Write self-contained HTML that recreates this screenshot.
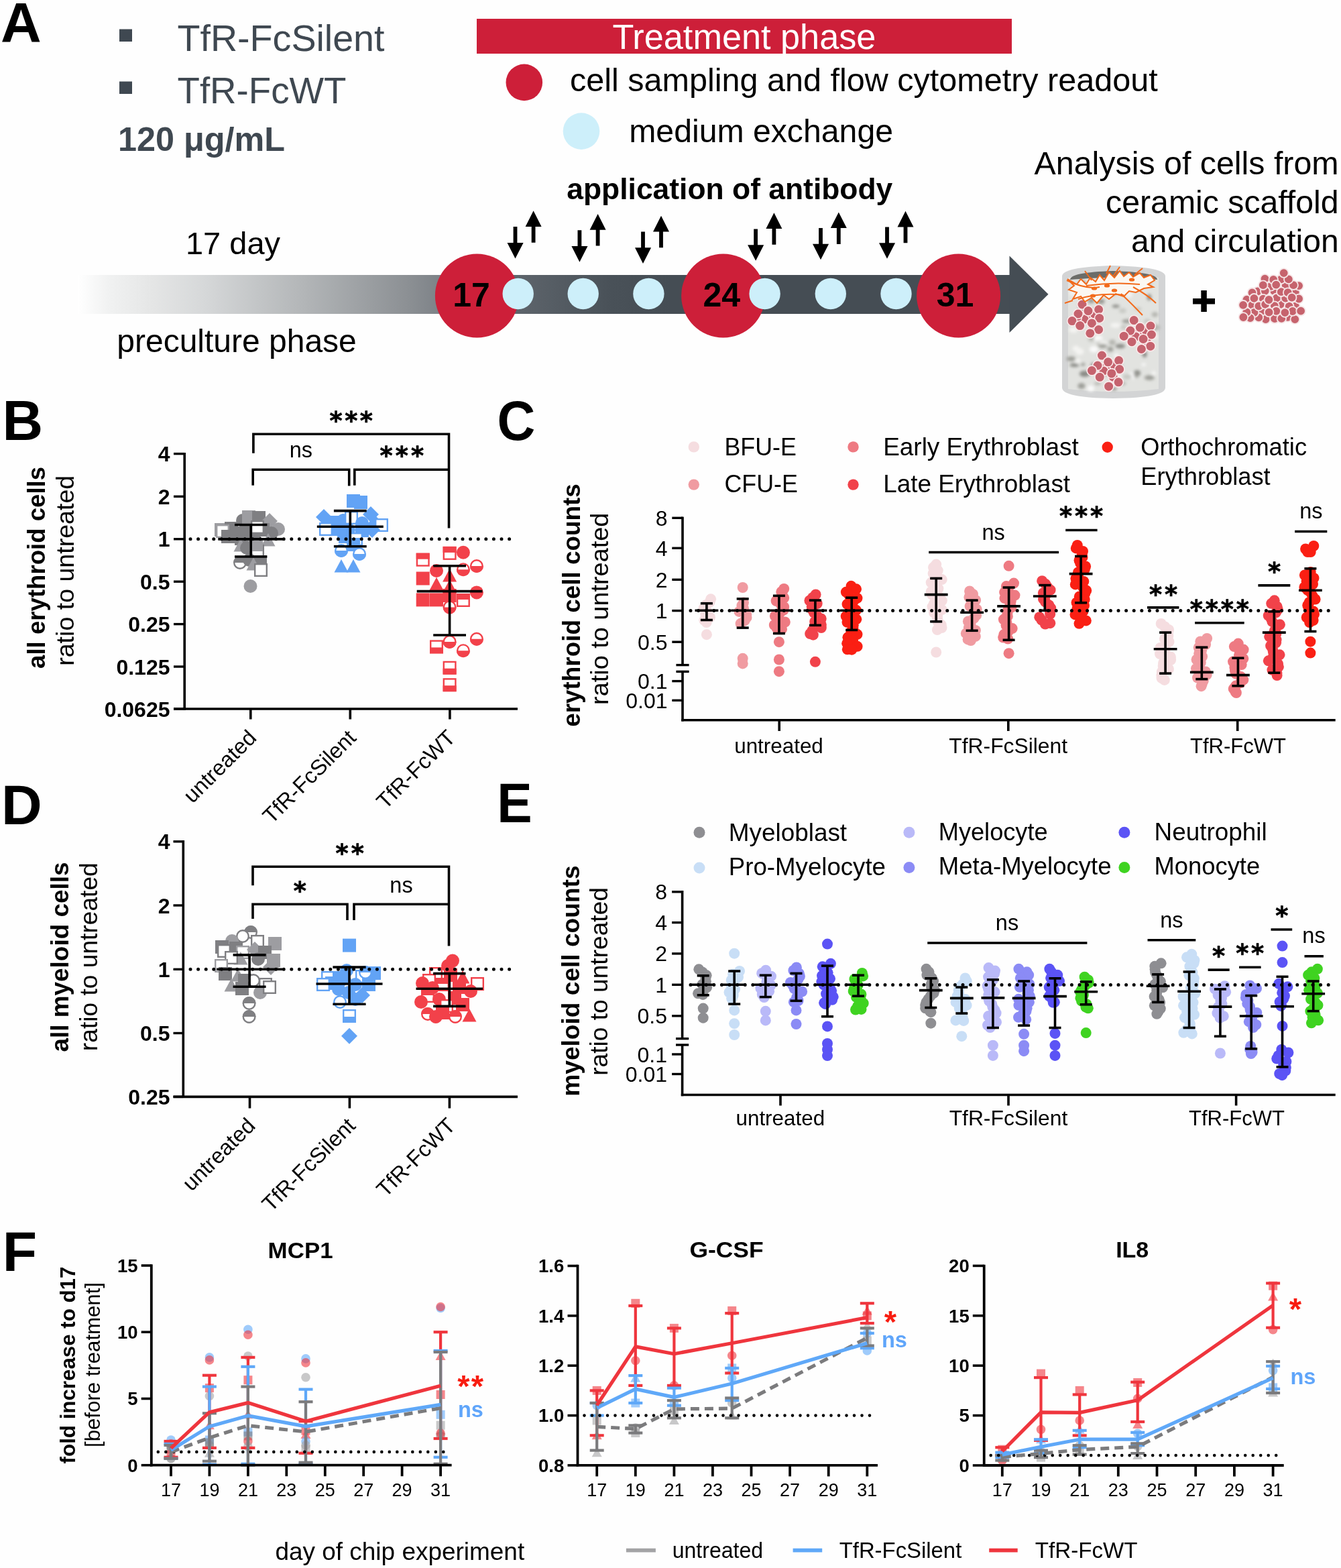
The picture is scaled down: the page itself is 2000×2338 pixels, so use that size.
<!DOCTYPE html>
<html><head><meta charset="utf-8"><title>Figure</title>
<style>html,body{margin:0;padding:0;background:#fff;}svg{display:block;}text{font-family:'Liberation Sans',Arial,Helvetica,sans-serif;}</style>
</head><body>
<svg width="2000" height="2338" viewBox="0 0 2000 2338">
<rect x="0" y="0" width="2000" height="2338" fill="#fefefe"/>
<text x="1.0" y="62.6" font-size="84" font-weight="bold">A</text>
<rect x="178.0" y="43.5" width="19.0" height="18.5" fill="#3f4851"/>
<rect x="178.0" y="121.5" width="19.0" height="18.5" fill="#3f4851"/>
<text x="264.5" y="75.9" font-size="56" fill="#3f4851" textLength="309.0" lengthAdjust="spacingAndGlyphs">TfR-FcSilent</text>
<text x="264.5" y="154.1" font-size="56" fill="#3f4851" textLength="252.0" lengthAdjust="spacingAndGlyphs">TfR-FcWT</text>
<text x="176.0" y="224.9" font-size="50" font-weight="bold" fill="#3f4851" textLength="249.0" lengthAdjust="spacingAndGlyphs">120 μg/mL</text>
<rect x="711.0" y="28.0" width="798.0" height="52.0" fill="#cd1f39"/>
<text x="913.4" y="73.1" font-size="51" fill="#fff" textLength="393.0" lengthAdjust="spacingAndGlyphs">Treatment phase</text>
<circle cx="781.8" cy="122.9" r="27.3" fill="#cd1f39"/>
<text x="850.0" y="136.3" font-size="48" textLength="876.7" lengthAdjust="spacingAndGlyphs">cell sampling and flow cytometry readout</text>
<circle cx="867.0" cy="195.6" r="27.3" fill="#cdeffa"/>
<text x="938.2" y="212.2" font-size="48" textLength="393.8" lengthAdjust="spacingAndGlyphs">medium exchange</text>
<text x="845.3" y="297.0" font-size="45" font-weight="bold" textLength="486.0" lengthAdjust="spacingAndGlyphs">application of antibody</text>
<text x="1996.6" y="260.0" font-size="48" text-anchor="end" textLength="454.0" lengthAdjust="spacingAndGlyphs">Analysis of cells from</text>
<text x="1996.6" y="317.5" font-size="48" text-anchor="end" textLength="347.5" lengthAdjust="spacingAndGlyphs">ceramic scaffold</text>
<text x="1996.6" y="376.0" font-size="48" text-anchor="end">and circulation</text>
<text x="277.0" y="379.0" font-size="47" textLength="141.0" lengthAdjust="spacingAndGlyphs">17 day</text>
<text x="174.3" y="524.5" font-size="48" textLength="357.5" lengthAdjust="spacingAndGlyphs">preculture phase</text>
<defs><linearGradient id="gbar" x1="116" y1="0" x2="1506" y2="0" gradientUnits="userSpaceOnUse"><stop offset="0" stop-color="#ffffff"/><stop offset="0.032" stop-color="#f1f2f2"/><stop offset="0.082" stop-color="#e4e5e5"/><stop offset="0.135" stop-color="#d6d8d9"/><stop offset="0.244" stop-color="#b2b5b7"/><stop offset="0.354" stop-color="#8c9094"/><stop offset="0.384" stop-color="#7f8489"/><stop offset="0.474" stop-color="#5d646b"/><stop offset="0.573" stop-color="#495158"/><stop offset="0.636" stop-color="#454d54"/><stop offset="1" stop-color="#454d54"/></linearGradient></defs>
<rect x="116.0" y="410.0" width="1390.5" height="58.0" fill="url(#gbar)"/>
<polygon points="1505.5,381.5 1563.5,438.8 1505.5,496.0" fill="#454d54"/>
<circle cx="711.4" cy="441.0" r="62.5" fill="#cd1f39"/>
<circle cx="1078.6" cy="441.0" r="62.5" fill="#cd1f39"/>
<circle cx="1429.6" cy="441.0" r="62.5" fill="#cd1f39"/>
<circle cx="772.7" cy="438.0" r="23.2" fill="#cdeffa"/>
<circle cx="869.7" cy="438.0" r="23.2" fill="#cdeffa"/>
<circle cx="967.4" cy="438.0" r="23.2" fill="#cdeffa"/>
<circle cx="1140.6" cy="438.0" r="23.2" fill="#cdeffa"/>
<circle cx="1238.8" cy="438.0" r="23.2" fill="#cdeffa"/>
<circle cx="1336.5" cy="438.0" r="23.2" fill="#cdeffa"/>
<text x="703.0" y="457.3" font-size="50" font-weight="bold" text-anchor="middle">17</text>
<text x="1076.3" y="457.3" font-size="50" font-weight="bold" text-anchor="middle">24</text>
<text x="1424.5" y="457.3" font-size="50" font-weight="bold" text-anchor="middle">31</text>
<path d="M765.6,338.1 h5.8 v23.8 h9.2 L768.5,385.5 L756.5,361.9 h9.1 z" fill="#000" stroke="none" stroke-width="0"/>
<path d="M795.6,314.2 L807.6,337.9 h-9.1 v23.8 h-5.8 v-23.8 h-9.1 z" fill="#000" stroke="none" stroke-width="0"/>
<path d="M861.5,343.3 h5.8 v23.8 h9.2 L864.4,390.7 L852.4,367.1 h9.1 z" fill="#000" stroke="none" stroke-width="0"/>
<path d="M891.6,319.0 L903.6,342.7 h-9.1 v23.8 h-5.8 v-23.8 h-9.1 z" fill="#000" stroke="none" stroke-width="0"/>
<path d="M956.1,345.5 h5.8 v23.8 h9.2 L959.0,392.9 L947.0,369.3 h9.1 z" fill="#000" stroke="none" stroke-width="0"/>
<path d="M986.0,321.7 L998.0,345.4 h-9.1 v23.8 h-5.8 v-23.8 h-9.1 z" fill="#000" stroke="none" stroke-width="0"/>
<path d="M1124.2,341.4 h5.8 v23.8 h9.2 L1127.1,388.8 L1115.1,365.2 h9.1 z" fill="#000" stroke="none" stroke-width="0"/>
<path d="M1154.4,317.3 L1166.4,341.0 h-9.1 v23.8 h-5.8 v-23.8 h-9.1 z" fill="#000" stroke="none" stroke-width="0"/>
<path d="M1221.1,339.9 h5.8 v23.8 h9.2 L1224.0,387.3 L1212.0,363.7 h9.1 z" fill="#000" stroke="none" stroke-width="0"/>
<path d="M1250.8,316.4 L1262.8,340.1 h-9.1 v23.8 h-5.8 v-23.8 h-9.1 z" fill="#000" stroke="none" stroke-width="0"/>
<path d="M1320.1,338.4 h5.8 v23.8 h9.2 L1323.0,385.8 L1311.0,362.2 h9.1 z" fill="#000" stroke="none" stroke-width="0"/>
<path d="M1350.5,314.7 L1362.5,338.4 h-9.1 v23.8 h-5.8 v-23.8 h-9.1 z" fill="#000" stroke="none" stroke-width="0"/>
<defs><radialGradient id="scaf" cx="0.5" cy="0.5" r="0.6"><stop offset="0" stop-color="#e8e9e6"/><stop offset="1" stop-color="#c9cac8"/></radialGradient><filter id="blur1"><feGaussianBlur stdDeviation="2.2"/></filter></defs>
<path d="M1584,412 Q1584,398 1660,396 Q1738,398 1738,412 L1738,578 Q1738,593 1660,594 Q1584,593 1584,578 Z" fill="#d3d4d5" stroke="none" stroke-width="0"/>
<path d="M1593,414 Q1660,405 1728,414 L1728,580 Q1660,588 1593,580 Z" fill="#e2e3e0" stroke="none" stroke-width="0"/>
<g filter="url(#blur1)"><ellipse cx="1627.2" cy="506.2" rx="4.8" ry="3.8" fill="#c8c9c4"/><ellipse cx="1670.8" cy="516.1" rx="7.5" ry="3.4" fill="#8a8b86"/><ellipse cx="1626.8" cy="579.3" rx="5.4" ry="4.5" fill="#fafafa"/><ellipse cx="1647.4" cy="557.5" rx="4.2" ry="2.5" fill="#8a8b86"/><ellipse cx="1646.5" cy="420.5" rx="6.9" ry="2.5" fill="#8a8b86"/><ellipse cx="1602.4" cy="544.4" rx="7.1" ry="2.8" fill="#8a8b86"/><ellipse cx="1688.3" cy="560.4" rx="6.6" ry="4.8" fill="#fafafa"/><ellipse cx="1689.5" cy="511.5" rx="7.8" ry="2.4" fill="#f4f4f2"/><ellipse cx="1609.4" cy="440.0" rx="4.1" ry="4.9" fill="#fafafa"/><ellipse cx="1695.9" cy="556.5" rx="5.1" ry="4.5" fill="#8a8b86"/><ellipse cx="1641.6" cy="512.8" rx="5.9" ry="4.7" fill="#c8c9c4"/><ellipse cx="1713.3" cy="422.6" rx="4.4" ry="3.8" fill="#c8c9c4"/><ellipse cx="1617.7" cy="557.4" rx="7.8" ry="4.7" fill="#8a8b86"/><ellipse cx="1610.2" cy="524.2" rx="6.2" ry="5.0" fill="#f4f4f2"/><ellipse cx="1633.2" cy="428.3" rx="7.3" ry="5.0" fill="#9d9e98"/><ellipse cx="1640.7" cy="428.8" rx="7.5" ry="2.1" fill="#fafafa"/><ellipse cx="1694.6" cy="559.4" rx="3.2" ry="3.8" fill="#9d9e98"/><ellipse cx="1645.0" cy="513.0" rx="5.8" ry="4.8" fill="#f4f4f2"/><ellipse cx="1661.2" cy="579.8" rx="4.5" ry="2.2" fill="#8a8b86"/><ellipse cx="1665.0" cy="571.7" rx="7.9" ry="2.9" fill="#f4f4f2"/><ellipse cx="1616.8" cy="424.9" rx="7.3" ry="2.9" fill="#b5b6b0"/><ellipse cx="1710.9" cy="479.2" rx="5.3" ry="3.6" fill="#c8c9c4"/><ellipse cx="1707.1" cy="528.3" rx="3.5" ry="4.9" fill="#8a8b86"/><ellipse cx="1631.5" cy="520.8" rx="6.6" ry="4.8" fill="#fafafa"/><ellipse cx="1721.2" cy="502.4" rx="5.7" ry="2.0" fill="#fafafa"/><ellipse cx="1722.4" cy="469.0" rx="4.9" ry="3.8" fill="#b5b6b0"/><ellipse cx="1604.6" cy="519.6" rx="5.3" ry="4.0" fill="#f4f4f2"/><ellipse cx="1674.3" cy="463.2" rx="5.4" ry="3.8" fill="#c8c9c4"/><ellipse cx="1599.7" cy="477.8" rx="6.1" ry="2.9" fill="#8a8b86"/><ellipse cx="1637.6" cy="477.0" rx="4.6" ry="3.1" fill="#8a8b86"/><ellipse cx="1630.5" cy="545.5" rx="3.5" ry="4.4" fill="#8a8b86"/><ellipse cx="1683.8" cy="439.3" rx="5.5" ry="4.0" fill="#f4f4f2"/><ellipse cx="1627.3" cy="448.4" rx="5.2" ry="4.1" fill="#9d9e98"/><ellipse cx="1673.3" cy="571.8" rx="6.4" ry="2.7" fill="#b5b6b0"/><ellipse cx="1607.2" cy="538.2" rx="4.1" ry="3.7" fill="#f4f4f2"/><ellipse cx="1625.6" cy="437.6" rx="5.6" ry="2.6" fill="#8a8b86"/><ellipse cx="1620.3" cy="463.1" rx="7.0" ry="3.9" fill="#8a8b86"/><ellipse cx="1640.9" cy="439.0" rx="4.5" ry="4.4" fill="#f4f4f2"/><ellipse cx="1656.0" cy="520.7" rx="4.5" ry="3.7" fill="#9d9e98"/><ellipse cx="1713.9" cy="443.3" rx="3.0" ry="4.8" fill="#8a8b86"/><ellipse cx="1722.3" cy="488.4" rx="7.8" ry="4.8" fill="#b5b6b0"/><ellipse cx="1601.1" cy="492.0" rx="6.8" ry="4.2" fill="#f4f4f2"/><ellipse cx="1666.1" cy="562.1" rx="7.3" ry="4.6" fill="#f4f4f2"/><ellipse cx="1612.2" cy="457.6" rx="3.2" ry="4.4" fill="#8a8b86"/><ellipse cx="1714.3" cy="563.2" rx="7.5" ry="3.7" fill="#9d9e98"/><ellipse cx="1658.1" cy="437.6" rx="5.5" ry="2.7" fill="#9d9e98"/><ellipse cx="1663.7" cy="485.0" rx="7.7" ry="3.8" fill="#f4f4f2"/><ellipse cx="1612.9" cy="575.5" rx="5.7" ry="4.4" fill="#9d9e98"/><ellipse cx="1641.7" cy="450.0" rx="5.7" ry="4.5" fill="#b5b6b0"/><ellipse cx="1627.4" cy="462.3" rx="7.4" ry="2.4" fill="#9d9e98"/><ellipse cx="1658.9" cy="510.5" rx="5.0" ry="4.3" fill="#b5b6b0"/><ellipse cx="1631.1" cy="503.4" rx="5.1" ry="3.4" fill="#9d9e98"/><ellipse cx="1705.8" cy="543.6" rx="3.2" ry="2.1" fill="#fafafa"/><ellipse cx="1720.8" cy="556.4" rx="3.4" ry="3.5" fill="#f4f4f2"/><ellipse cx="1616.9" cy="429.6" rx="4.9" ry="3.2" fill="#f4f4f2"/><ellipse cx="1642.8" cy="449.0" rx="4.6" ry="2.4" fill="#8a8b86"/><ellipse cx="1597.4" cy="535.1" rx="7.0" ry="3.7" fill="#9d9e98"/><ellipse cx="1644.4" cy="515.9" rx="6.9" ry="3.1" fill="#9d9e98"/><ellipse cx="1676.1" cy="487.9" rx="4.9" ry="3.5" fill="#c8c9c4"/><ellipse cx="1637.0" cy="571.9" rx="5.1" ry="2.1" fill="#b5b6b0"/><ellipse cx="1665.1" cy="530.6" rx="3.4" ry="3.3" fill="#fafafa"/><ellipse cx="1613.6" cy="422.6" rx="4.6" ry="4.9" fill="#8a8b86"/><ellipse cx="1697.4" cy="460.5" rx="5.3" ry="2.4" fill="#c8c9c4"/><ellipse cx="1681.1" cy="561.7" rx="7.0" ry="4.0" fill="#c8c9c4"/><ellipse cx="1637.4" cy="504.2" rx="7.1" ry="4.1" fill="#fafafa"/><ellipse cx="1615.2" cy="543.4" rx="3.2" ry="2.3" fill="#9d9e98"/><ellipse cx="1680.7" cy="478.9" rx="7.1" ry="3.0" fill="#9d9e98"/><ellipse cx="1600.2" cy="436.6" rx="5.4" ry="4.1" fill="#f4f4f2"/><ellipse cx="1670.5" cy="547.4" rx="3.2" ry="4.3" fill="#8a8b86"/><ellipse cx="1664.2" cy="456.6" rx="5.8" ry="2.3" fill="#8a8b86"/></g>
<path d="M1596,417 Q1596,406 1660,404 Q1726,406 1726,417 Q1660,411 1596,417 Z" fill="#6b6c69" stroke="none" stroke-width="0"/>
<circle cx="1620.0" cy="472.0" r="7.3" fill="#c5636e" stroke="#fbe9ea" stroke-width="1.6"/>
<circle cx="1632.0" cy="468.0" r="7.3" fill="#c5636e" stroke="#fbe9ea" stroke-width="1.6"/>
<circle cx="1617.0" cy="476.0" r="7.3" fill="#c5636e" stroke="#fbe9ea" stroke-width="1.6"/>
<circle cx="1630.0" cy="488.0" r="7.3" fill="#c5636e" stroke="#fbe9ea" stroke-width="1.6"/>
<circle cx="1606.0" cy="474.0" r="7.3" fill="#c5636e" stroke="#fbe9ea" stroke-width="1.6"/>
<circle cx="1614.0" cy="454.0" r="7.3" fill="#c5636e" stroke="#fbe9ea" stroke-width="1.6"/>
<circle cx="1638.6" cy="461.5" r="7.3" fill="#c5636e" stroke="#fbe9ea" stroke-width="1.6"/>
<circle cx="1623.0" cy="463.6" r="7.3" fill="#c5636e" stroke="#fbe9ea" stroke-width="1.6"/>
<circle cx="1608.0" cy="468.0" r="7.3" fill="#c5636e" stroke="#fbe9ea" stroke-width="1.6"/>
<circle cx="1639.7" cy="474.4" r="7.3" fill="#c5636e" stroke="#fbe9ea" stroke-width="1.6"/>
<circle cx="1599.0" cy="478.6" r="7.3" fill="#c5636e" stroke="#fbe9ea" stroke-width="1.6"/>
<circle cx="1628.4" cy="481.9" r="7.3" fill="#c5636e" stroke="#fbe9ea" stroke-width="1.6"/>
<circle cx="1610.7" cy="485.6" r="7.3" fill="#c5636e" stroke="#fbe9ea" stroke-width="1.6"/>
<circle cx="1638.6" cy="491.5" r="7.3" fill="#c5636e" stroke="#fbe9ea" stroke-width="1.6"/>
<circle cx="1625.8" cy="496.9" r="7.3" fill="#c5636e" stroke="#fbe9ea" stroke-width="1.6"/>
<circle cx="1698.0" cy="495.0" r="7.3" fill="#c5636e" stroke="#fbe9ea" stroke-width="1.6"/>
<circle cx="1709.0" cy="493.0" r="7.3" fill="#c5636e" stroke="#fbe9ea" stroke-width="1.6"/>
<circle cx="1694.0" cy="502.0" r="7.3" fill="#c5636e" stroke="#fbe9ea" stroke-width="1.6"/>
<circle cx="1710.0" cy="508.0" r="7.3" fill="#c5636e" stroke="#fbe9ea" stroke-width="1.6"/>
<circle cx="1691.2" cy="477.6" r="7.3" fill="#c5636e" stroke="#fbe9ea" stroke-width="1.6"/>
<circle cx="1716.0" cy="486.0" r="7.3" fill="#c5636e" stroke="#fbe9ea" stroke-width="1.6"/>
<circle cx="1700.3" cy="488.3" r="7.3" fill="#c5636e" stroke="#fbe9ea" stroke-width="1.6"/>
<circle cx="1685.8" cy="493.1" r="7.3" fill="#c5636e" stroke="#fbe9ea" stroke-width="1.6"/>
<circle cx="1717.4" cy="499.0" r="7.3" fill="#c5636e" stroke="#fbe9ea" stroke-width="1.6"/>
<circle cx="1676.2" cy="501.2" r="7.3" fill="#c5636e" stroke="#fbe9ea" stroke-width="1.6"/>
<circle cx="1705.1" cy="505.5" r="7.3" fill="#c5636e" stroke="#fbe9ea" stroke-width="1.6"/>
<circle cx="1688.0" cy="509.7" r="7.3" fill="#c5636e" stroke="#fbe9ea" stroke-width="1.6"/>
<circle cx="1715.8" cy="516.2" r="7.3" fill="#c5636e" stroke="#fbe9ea" stroke-width="1.6"/>
<circle cx="1702.4" cy="520.5" r="7.3" fill="#c5636e" stroke="#fbe9ea" stroke-width="1.6"/>
<circle cx="1650.0" cy="547.0" r="7.3" fill="#c5636e" stroke="#fbe9ea" stroke-width="1.6"/>
<circle cx="1662.0" cy="545.0" r="7.3" fill="#c5636e" stroke="#fbe9ea" stroke-width="1.6"/>
<circle cx="1646.0" cy="553.0" r="7.3" fill="#c5636e" stroke="#fbe9ea" stroke-width="1.6"/>
<circle cx="1660.0" cy="562.0" r="7.3" fill="#c5636e" stroke="#fbe9ea" stroke-width="1.6"/>
<circle cx="1643.4" cy="530.1" r="7.3" fill="#c5636e" stroke="#fbe9ea" stroke-width="1.6"/>
<circle cx="1668.6" cy="537.6" r="7.3" fill="#c5636e" stroke="#fbe9ea" stroke-width="1.6"/>
<circle cx="1652.6" cy="539.8" r="7.3" fill="#c5636e" stroke="#fbe9ea" stroke-width="1.6"/>
<circle cx="1637.0" cy="545.1" r="7.3" fill="#c5636e" stroke="#fbe9ea" stroke-width="1.6"/>
<circle cx="1669.7" cy="550.5" r="7.3" fill="#c5636e" stroke="#fbe9ea" stroke-width="1.6"/>
<circle cx="1628.4" cy="552.6" r="7.3" fill="#c5636e" stroke="#fbe9ea" stroke-width="1.6"/>
<circle cx="1657.9" cy="556.9" r="7.3" fill="#c5636e" stroke="#fbe9ea" stroke-width="1.6"/>
<circle cx="1640.2" cy="562.3" r="7.3" fill="#c5636e" stroke="#fbe9ea" stroke-width="1.6"/>
<circle cx="1668.1" cy="569.8" r="7.3" fill="#c5636e" stroke="#fbe9ea" stroke-width="1.6"/>
<circle cx="1653.6" cy="576.2" r="7.3" fill="#c5636e" stroke="#fbe9ea" stroke-width="1.6"/>
<path d="M1592,416 L1606,424 L1612,416 L1620,424 L1626,414 L1634,420 L1640,410 L1647,418 L1654,406 L1662,414 L1670,404 L1676,412 L1684,406 L1690,413 L1700,407 L1706,414 L1716,410 L1722,418 L1712,424 L1720,428 L1706,430 L1694,436 L1684,434 L1676,442 L1664,438 L1654,446 L1646,440 L1636,452 L1628,444 L1618,450 L1612,442 L1600,446 L1606,436 L1594,432 L1602,426 Z" fill="#fbf7f1" stroke="#f26a1b" stroke-width="2.0"/>
<path d="M1591,418 Q1620,432 1640,428 M1608,446 Q1640,436 1676,440 M1620,426 Q1660,420 1700,424 M1672,438 Q1690,455 1704,470 M1690,428 Q1712,440 1724,452 M1600,448 L1588,452 M1650,408 L1656,396 M1628,418 L1618,404 M1660,412 L1670,398 M1692,410 L1704,400" fill="none" stroke="#f26a1b" stroke-width="2.0"/>
<ellipse cx="1632" cy="430" rx="4.2" ry="2.6" fill="#f26a1b"/>
<ellipse cx="1651" cy="426" rx="4.2" ry="2.6" fill="#f26a1b"/>
<ellipse cx="1688" cy="417" rx="4.2" ry="2.6" fill="#f26a1b"/>
<ellipse cx="1630" cy="441" rx="4.2" ry="2.6" fill="#f26a1b"/>
<ellipse cx="1662" cy="433" rx="4.2" ry="2.6" fill="#f26a1b"/>
<rect x="1779.0" y="445.0" width="33.0" height="8.5" fill="#000"/>
<rect x="1791.3" y="433.0" width="8.5" height="32.0" fill="#000"/>
<circle cx="1931.9" cy="456.6" r="6.8" fill="#c6636d" stroke="#f6e6e7" stroke-width="1.8"/>
<circle cx="1859.5" cy="446.6" r="6.8" fill="#c6636d" stroke="#f6e6e7" stroke-width="1.8"/>
<circle cx="1900.5" cy="434.2" r="6.8" fill="#c6636d" stroke="#f6e6e7" stroke-width="1.8"/>
<circle cx="1886.5" cy="415.7" r="6.8" fill="#c6636d" stroke="#f6e6e7" stroke-width="1.8"/>
<circle cx="1895.4" cy="426.9" r="6.8" fill="#c6636d" stroke="#f6e6e7" stroke-width="1.8"/>
<circle cx="1875.6" cy="434.5" r="6.8" fill="#c6636d" stroke="#f6e6e7" stroke-width="1.8"/>
<circle cx="1882.9" cy="464.1" r="6.8" fill="#c6636d" stroke="#f6e6e7" stroke-width="1.8"/>
<circle cx="1909.7" cy="453.9" r="6.8" fill="#c6636d" stroke="#f6e6e7" stroke-width="1.8"/>
<circle cx="1886.8" cy="433.8" r="6.8" fill="#c6636d" stroke="#f6e6e7" stroke-width="1.8"/>
<circle cx="1931.7" cy="435.9" r="6.8" fill="#c6636d" stroke="#f6e6e7" stroke-width="1.8"/>
<circle cx="1883.9" cy="445.7" r="6.8" fill="#c6636d" stroke="#f6e6e7" stroke-width="1.8"/>
<circle cx="1887.7" cy="476.0" r="6.8" fill="#c6636d" stroke="#f6e6e7" stroke-width="1.8"/>
<circle cx="1937.1" cy="426.1" r="6.8" fill="#c6636d" stroke="#f6e6e7" stroke-width="1.8"/>
<circle cx="1922.7" cy="456.6" r="6.8" fill="#c6636d" stroke="#f6e6e7" stroke-width="1.8"/>
<circle cx="1920.5" cy="472.9" r="6.8" fill="#c6636d" stroke="#f6e6e7" stroke-width="1.8"/>
<circle cx="1867.5" cy="436.3" r="6.8" fill="#c6636d" stroke="#f6e6e7" stroke-width="1.8"/>
<circle cx="1904.0" cy="444.3" r="6.8" fill="#c6636d" stroke="#f6e6e7" stroke-width="1.8"/>
<circle cx="1917.7" cy="425.5" r="6.8" fill="#c6636d" stroke="#f6e6e7" stroke-width="1.8"/>
<circle cx="1937.1" cy="445.5" r="6.8" fill="#c6636d" stroke="#f6e6e7" stroke-width="1.8"/>
<circle cx="1917.2" cy="444.6" r="6.8" fill="#c6636d" stroke="#f6e6e7" stroke-width="1.8"/>
<circle cx="1910.7" cy="416.3" r="6.8" fill="#c6636d" stroke="#f6e6e7" stroke-width="1.8"/>
<circle cx="1931.3" cy="476.1" r="6.8" fill="#c6636d" stroke="#f6e6e7" stroke-width="1.8"/>
<circle cx="1867.5" cy="454.9" r="6.8" fill="#c6636d" stroke="#f6e6e7" stroke-width="1.8"/>
<circle cx="1910.8" cy="435.2" r="6.8" fill="#c6636d" stroke="#f6e6e7" stroke-width="1.8"/>
<circle cx="1899.2" cy="417.0" r="6.8" fill="#c6636d" stroke="#f6e6e7" stroke-width="1.8"/>
<circle cx="1870.4" cy="444.8" r="6.8" fill="#c6636d" stroke="#f6e6e7" stroke-width="1.8"/>
<circle cx="1929.1" cy="425.2" r="6.8" fill="#c6636d" stroke="#f6e6e7" stroke-width="1.8"/>
<circle cx="1877.3" cy="473.3" r="6.8" fill="#c6636d" stroke="#f6e6e7" stroke-width="1.8"/>
<circle cx="1900.9" cy="456.1" r="6.8" fill="#c6636d" stroke="#f6e6e7" stroke-width="1.8"/>
<circle cx="1870.5" cy="466.0" r="6.8" fill="#c6636d" stroke="#f6e6e7" stroke-width="1.8"/>
<circle cx="1864.6" cy="474.1" r="6.8" fill="#c6636d" stroke="#f6e6e7" stroke-width="1.8"/>
<circle cx="1927.8" cy="464.0" r="6.8" fill="#c6636d" stroke="#f6e6e7" stroke-width="1.8"/>
<circle cx="1859.3" cy="465.5" r="6.8" fill="#c6636d" stroke="#f6e6e7" stroke-width="1.8"/>
<circle cx="1877.3" cy="456.3" r="6.8" fill="#c6636d" stroke="#f6e6e7" stroke-width="1.8"/>
<circle cx="1887.1" cy="453.8" r="6.8" fill="#c6636d" stroke="#f6e6e7" stroke-width="1.8"/>
<circle cx="1901.1" cy="475.2" r="6.8" fill="#c6636d" stroke="#f6e6e7" stroke-width="1.8"/>
<circle cx="1892.4" cy="447.0" r="6.8" fill="#c6636d" stroke="#f6e6e7" stroke-width="1.8"/>
<circle cx="1854.1" cy="454.8" r="6.8" fill="#c6636d" stroke="#f6e6e7" stroke-width="1.8"/>
<circle cx="1920.7" cy="436.2" r="6.8" fill="#c6636d" stroke="#f6e6e7" stroke-width="1.8"/>
<circle cx="1903.2" cy="424.6" r="6.8" fill="#c6636d" stroke="#f6e6e7" stroke-width="1.8"/>
<circle cx="1940.1" cy="463.7" r="6.8" fill="#c6636d" stroke="#f6e6e7" stroke-width="1.8"/>
<circle cx="1883.8" cy="425.2" r="6.8" fill="#c6636d" stroke="#f6e6e7" stroke-width="1.8"/>
<circle cx="1921.8" cy="416.4" r="6.8" fill="#c6636d" stroke="#f6e6e7" stroke-width="1.8"/>
<circle cx="1903.4" cy="463.8" r="6.8" fill="#c6636d" stroke="#f6e6e7" stroke-width="1.8"/>
<circle cx="1914.7" cy="407.1" r="6.8" fill="#c6636d" stroke="#f6e6e7" stroke-width="1.8"/>
<circle cx="1892.6" cy="465.6" r="6.8" fill="#c6636d" stroke="#f6e6e7" stroke-width="1.8"/>
<circle cx="1911.3" cy="474.9" r="6.8" fill="#c6636d" stroke="#f6e6e7" stroke-width="1.8"/>
<circle cx="1926.7" cy="443.7" r="6.8" fill="#c6636d" stroke="#f6e6e7" stroke-width="1.8"/>
<circle cx="1854.4" cy="473.0" r="6.8" fill="#c6636d" stroke="#f6e6e7" stroke-width="1.8"/>
<circle cx="1916.4" cy="466.1" r="6.8" fill="#c6636d" stroke="#f6e6e7" stroke-width="1.8"/>
<text x="3.6" y="655.5" font-size="84" font-weight="bold">B</text>
<line x1="275.2" y1="674.9" x2="275.2" y2="1058.7" stroke="#000" stroke-width="3.6"/>
<line x1="259.0" y1="676.6" x2="275.2" y2="676.6" stroke="#000" stroke-width="3.4"/>
<text x="253.5" y="688.1" font-size="32" font-weight="bold" text-anchor="end">4</text>
<line x1="259.0" y1="740.3" x2="275.2" y2="740.3" stroke="#000" stroke-width="3.4"/>
<text x="253.5" y="751.8" font-size="32" font-weight="bold" text-anchor="end">2</text>
<line x1="259.0" y1="803.8" x2="275.2" y2="803.8" stroke="#000" stroke-width="3.4"/>
<text x="253.5" y="815.3" font-size="32" font-weight="bold" text-anchor="end">1</text>
<line x1="259.0" y1="867.2" x2="275.2" y2="867.2" stroke="#000" stroke-width="3.4"/>
<text x="253.5" y="878.7" font-size="32" font-weight="bold" text-anchor="end">0.5</text>
<line x1="259.0" y1="930.6" x2="275.2" y2="930.6" stroke="#000" stroke-width="3.4"/>
<text x="253.5" y="942.1" font-size="32" font-weight="bold" text-anchor="end">0.25</text>
<line x1="259.0" y1="994.0" x2="275.2" y2="994.0" stroke="#000" stroke-width="3.4"/>
<text x="253.5" y="1005.5" font-size="32" font-weight="bold" text-anchor="end">0.125</text>
<line x1="259.0" y1="1057.0" x2="275.2" y2="1057.0" stroke="#000" stroke-width="3.4"/>
<text x="253.5" y="1068.5" font-size="32" font-weight="bold" text-anchor="end">0.0625</text>
<line x1="259.0" y1="1057.0" x2="772.0" y2="1057.0" stroke="#000" stroke-width="3.6"/>
<line x1="373.8" y1="1057.0" x2="373.8" y2="1072.5" stroke="#000" stroke-width="3.6"/>
<line x1="522.3" y1="1057.0" x2="522.3" y2="1072.5" stroke="#000" stroke-width="3.6"/>
<line x1="670.9" y1="1057.0" x2="670.9" y2="1072.5" stroke="#000" stroke-width="3.6"/>
<text x="0" y="0" font-size="32.5" text-anchor="end" transform="translate(384.2,1102.0) rotate(-45)">untreated</text>
<text x="0" y="0" font-size="32.5" text-anchor="end" transform="translate(533.0,1102.0) rotate(-45)">TfR-FcSilent</text>
<text x="0" y="0" font-size="32.5" text-anchor="end" transform="translate(681.0,1102.0) rotate(-45)">TfR-FcWT</text>
<text x="0" y="0" font-size="37" font-weight="bold" text-anchor="middle" textLength="301.0" lengthAdjust="spacingAndGlyphs" transform="translate(67.4,846.4) rotate(-90)">all erythroid cells</text>
<text x="0" y="0" font-size="37" text-anchor="middle" textLength="284.0" lengthAdjust="spacingAndGlyphs" transform="translate(110.4,850.8) rotate(-90)">ratio to untreated</text>
<path d="M377.9,675.8 V647.3 H669.5 V787.5" fill="none" stroke="#000" stroke-width="3.6"/>
<path d="M377.2,723.7 V700.2 H520.7 V724.6" fill="none" stroke="#000" stroke-width="3.6"/>
<path d="M528.8,723.7 V700.2 H669.5" fill="none" stroke="#000" stroke-width="3.6"/>
<text x="491.6" y="640.0" font-size="36.5" font-family="DejaVu Sans, sans-serif" font-weight="bold" letter-spacing="3.51" fill="#000" stroke="#000" stroke-width="0.7" style="font-family:'DejaVu Sans',sans-serif">***</text>
<text x="448.8" y="681.6" font-size="34" text-anchor="middle" textLength="34.3" lengthAdjust="spacingAndGlyphs">ns</text>
<text x="566.5" y="691.5" font-size="36.5" font-family="DejaVu Sans, sans-serif" font-weight="bold" letter-spacing="4.11" fill="#000" stroke="#000" stroke-width="0.7" style="font-family:'DejaVu Sans',sans-serif">***</text>
<rect x="320.0" y="780.0" width="20.0" height="20.0" fill="#9d9da1"/>
<rect x="335.0" y="778.0" width="20.0" height="20.0" fill="#7f7f82"/>
<rect x="323.2" y="783.2" width="17.6" height="17.6" fill="#fff" stroke="#9d9da1" stroke-width="2.4"/>
<circle cx="362.0" cy="776.0" r="10.0" fill="#7f7f82"/>
<rect x="361.0" y="761.0" width="20.0" height="20.0" fill="#9d9da1"/>
<rect x="376.0" y="762.0" width="20.0" height="20.0" fill="#7f7f82"/>
<polygon points="402.0,765.0 414.0,777.0 402.0,789.0 390.0,777.0" fill="#9d9da1"/>
<circle cx="415.0" cy="789.0" r="10.0" fill="#9d9da1"/>
<rect x="342.0" y="785.0" width="20.0" height="20.0" fill="#7f7f82"/>
<rect x="362.0" y="783.0" width="20.0" height="20.0" fill="#7f7f82"/>
<rect x="382.0" y="780.0" width="20.0" height="20.0" fill="#7f7f82"/>
<circle cx="405.0" cy="795.0" r="10.0" fill="#7f7f82"/>
<rect x="375.2" y="777.2" width="17.6" height="17.6" fill="#fff" stroke="#7f7f82" stroke-width="2.4"/>
<rect x="330.0" y="790.0" width="20.0" height="20.0" fill="#7f7f82"/>
<rect x="350.0" y="793.0" width="20.0" height="20.0" fill="#7f7f82"/>
<polygon points="400.0,795.0 410.5,814.5 389.5,814.5" fill="#9d9da1"/>
<circle cx="380.0" cy="805.0" r="10.0" fill="#7f7f82"/>
<polygon points="359.0,803.0 369.5,822.5 348.5,822.5" fill="#9d9da1"/>
<circle cx="368.0" cy="817.0" r="10.0" fill="#7f7f82"/>
<rect x="375.2" y="813.2" width="17.6" height="17.6" fill="#fff" stroke="#7f7f82" stroke-width="2.4"/>
<rect x="372.0" y="802.0" width="20.0" height="20.0" fill="#9d9da1"/>
<circle cx="358.0" cy="839.0" r="8.8" fill="#fff" stroke="#7f7f82" stroke-width="2.4"/>
<path d="M348.0,839.0 A10,10 0 0 1 368.0,839.0 Z" fill="#7f7f82" stroke="none" stroke-width="0"/>
<circle cx="372.0" cy="835.0" r="10.0" fill="#7f7f82"/>
<rect x="378.0" y="828.0" width="20.0" height="20.0" fill="#7f7f82"/>
<polygon points="378.0,831.0 388.5,850.5 367.5,850.5" fill="#9d9da1"/>
<rect x="380.2" y="841.2" width="17.6" height="17.6" fill="#fff" stroke="#7f7f82" stroke-width="2.4"/>
<circle cx="373.5" cy="874.0" r="10.0" fill="#9d9da1"/>
<line x1="374.2" y1="782.5" x2="374.2" y2="830.0" stroke="#000" stroke-width="3.6"/>
<line x1="350.0" y1="782.5" x2="398.4" y2="782.5" stroke="#000" stroke-width="3.6"/>
<line x1="350.0" y1="830.0" x2="398.4" y2="830.0" stroke="#000" stroke-width="3.6"/>
<line x1="325.3" y1="803.9" x2="423.1" y2="803.9" stroke="#000" stroke-width="3.6"/>
<rect x="517.0" y="737.0" width="20.0" height="20.0" fill="#62a3f5"/>
<rect x="528.0" y="739.0" width="20.0" height="20.0" fill="#62a3f5"/>
<polygon points="483.0,759.0 495.0,771.0 483.0,783.0 471.0,771.0" fill="#62a3f5"/>
<polygon points="553.0,755.0 565.0,767.0 553.0,779.0 541.0,767.0" fill="#62a3f5"/>
<rect x="487.0" y="769.0" width="20.0" height="20.0" fill="#62a3f5"/>
<circle cx="512.0" cy="776.0" r="10.0" fill="#62a3f5"/>
<rect x="515.2" y="763.2" width="17.6" height="17.6" fill="#fff" stroke="#62a3f5" stroke-width="2.4"/>
<circle cx="540.0" cy="780.0" r="10.0" fill="#62a3f5"/>
<polygon points="560.0,769.0 572.0,781.0 560.0,793.0 548.0,781.0" fill="#62a3f5"/>
<rect x="560.2" y="774.2" width="17.6" height="17.6" fill="#fff" stroke="#62a3f5" stroke-width="2.4"/>
<rect x="495.0" y="779.0" width="20.0" height="20.0" fill="#62a3f5"/>
<rect x="477.2" y="780.2" width="17.6" height="17.6" fill="#fff" stroke="#62a3f5" stroke-width="2.4"/>
<circle cx="520.0" cy="790.0" r="10.0" fill="#62a3f5"/>
<rect x="530.0" y="781.0" width="20.0" height="20.0" fill="#62a3f5"/>
<polygon points="555.0,778.0 567.0,790.0 555.0,802.0 543.0,790.0" fill="#62a3f5"/>
<rect x="505.0" y="790.0" width="20.0" height="20.0" fill="#62a3f5"/>
<circle cx="513.0" cy="800.0" r="10.0" fill="#62a3f5"/>
<rect x="522.2" y="795.2" width="17.6" height="17.6" fill="#fff" stroke="#62a3f5" stroke-width="2.4"/>
<rect x="517.0" y="802.0" width="20.0" height="20.0" fill="#62a3f5"/>
<circle cx="509.0" cy="821.0" r="8.8" fill="#fff" stroke="#62a3f5" stroke-width="2.4"/>
<path d="M499.0,821.0 A10,10 0 0 0 519.0,821.0 Z" fill="#62a3f5" stroke="none" stroke-width="0"/>
<circle cx="536.0" cy="826.0" r="8.8" fill="#fff" stroke="#62a3f5" stroke-width="2.4"/>
<path d="M526.0,826.0 A10,10 0 0 0 546.0,826.0 Z" fill="#62a3f5" stroke="none" stroke-width="0"/>
<polygon points="509.0,834.0 519.5,853.5 498.5,853.5" fill="#62a3f5"/>
<polygon points="527.0,834.0 537.5,853.5 516.5,853.5" fill="#62a3f5"/>
<line x1="522.3" y1="761.6" x2="522.3" y2="814.8" stroke="#000" stroke-width="3.6"/>
<line x1="497.9" y1="761.6" x2="546.7" y2="761.6" stroke="#000" stroke-width="3.6"/>
<line x1="497.9" y1="814.8" x2="546.7" y2="814.8" stroke="#000" stroke-width="3.6"/>
<line x1="472.8" y1="785.2" x2="571.8" y2="785.2" stroke="#000" stroke-width="3.6"/>
<rect x="621.9" y="825.9" width="17.6" height="17.6" fill="#fff" stroke="#f2414a" stroke-width="2.4"/>
<rect x="620.7" y="824.7" width="20.0" height="9.0" fill="#f2414a"/>
<rect x="661.8" y="816.1" width="17.6" height="17.6" fill="#fff" stroke="#f2414a" stroke-width="2.4"/>
<rect x="660.6" y="814.9" width="20.0" height="9.0" fill="#f2414a"/>
<circle cx="690.9" cy="823.7" r="10.0" fill="#f2414a"/>
<circle cx="651.0" cy="851.0" r="10.0" fill="#f2414a"/>
<circle cx="690.9" cy="849.2" r="8.8" fill="#fff" stroke="#f2414a" stroke-width="2.4"/>
<path d="M680.9,849.2 A10,10 0 0 0 700.9,849.2 Z" fill="#f2414a" stroke="none" stroke-width="0"/>
<circle cx="710.9" cy="844.0" r="8.8" fill="#fff" stroke="#f2414a" stroke-width="2.4"/>
<path d="M700.9,844.0 A10,10 0 0 0 720.9,844.0 Z" fill="#f2414a" stroke="none" stroke-width="0"/>
<rect x="620.7" y="852.5" width="20.0" height="20.0" fill="#f2414a"/>
<polygon points="670.6,848.0 681.1,867.5 660.1,867.5" fill="#f2414a"/>
<polygon points="651.0,860.8 661.5,880.3 640.5,880.3" fill="#f2414a"/>
<polygon points="670.6,864.3 681.1,883.8 660.1,883.8" fill="#f2414a"/>
<circle cx="710.9" cy="883.4" r="10.0" fill="#f2414a"/>
<rect x="620.7" y="884.4" width="20.0" height="20.0" fill="#f2414a"/>
<rect x="641.0" y="884.4" width="20.0" height="20.0" fill="#f2414a"/>
<rect x="660.6" y="878.0" width="20.0" height="20.0" fill="#f2414a"/>
<rect x="682.1" y="886.2" width="17.6" height="17.6" fill="#fff" stroke="#f2414a" stroke-width="2.4"/>
<rect x="680.9" y="885.0" width="20.0" height="9.0" fill="#f2414a"/>
<circle cx="670.6" cy="905.4" r="8.8" fill="#fff" stroke="#f2414a" stroke-width="2.4"/>
<path d="M660.6,905.4 A10,10 0 0 0 680.6,905.4 Z" fill="#f2414a" stroke="none" stroke-width="0"/>
<rect x="642.2" y="955.6" width="17.6" height="17.6" fill="#fff" stroke="#f2414a" stroke-width="2.4"/>
<rect x="641.0" y="965.4" width="20.0" height="9.0" fill="#f2414a"/>
<circle cx="670.6" cy="956.9" r="8.8" fill="#fff" stroke="#f2414a" stroke-width="2.4"/>
<path d="M660.6,956.9 A10,10 0 0 0 680.6,956.9 Z" fill="#f2414a" stroke="none" stroke-width="0"/>
<circle cx="710.9" cy="952.8" r="8.8" fill="#fff" stroke="#f2414a" stroke-width="2.4"/>
<path d="M700.9,952.8 A10,10 0 0 0 720.9,952.8 Z" fill="#f2414a" stroke="none" stroke-width="0"/>
<circle cx="690.9" cy="970.2" r="8.8" fill="#fff" stroke="#f2414a" stroke-width="2.4"/>
<path d="M680.9,970.2 A10,10 0 0 0 700.9,970.2 Z" fill="#f2414a" stroke="none" stroke-width="0"/>
<rect x="661.8" y="986.9" width="17.6" height="17.6" fill="#fff" stroke="#f2414a" stroke-width="2.4"/>
<rect x="660.6" y="996.7" width="20.0" height="9.0" fill="#f2414a"/>
<rect x="661.8" y="1012.4" width="17.6" height="17.6" fill="#fff" stroke="#f2414a" stroke-width="2.4"/>
<rect x="660.6" y="1022.2" width="20.0" height="9.0" fill="#f2414a"/>
<line x1="670.6" y1="843.8" x2="670.6" y2="947.0" stroke="#000" stroke-width="3.6"/>
<line x1="646.2" y1="843.8" x2="695.0" y2="843.8" stroke="#000" stroke-width="3.6"/>
<line x1="646.2" y1="947.0" x2="695.0" y2="947.0" stroke="#000" stroke-width="3.6"/>
<line x1="621.7" y1="881.6" x2="719.5" y2="881.6" stroke="#000" stroke-width="3.6"/>
<line x1="284.0" y1="803.8" x2="768.0" y2="803.8" stroke="#000" stroke-width="5.0" stroke-linecap="round" stroke-dasharray="0 11.6"/>
<text x="741.5" y="655.5" font-size="84" font-weight="bold" textLength="56.8" lengthAdjust="spacingAndGlyphs">C</text>
<circle cx="1034.8" cy="666.4" r="8.2" fill="#f5dde0"/>
<circle cx="1034.8" cy="722.6" r="8.2" fill="#f09ba1"/>
<circle cx="1272.5" cy="666.4" r="8.2" fill="#ee7a82"/>
<circle cx="1272.5" cy="722.6" r="8.2" fill="#f1424a"/>
<circle cx="1651.7" cy="666.7" r="8.2" fill="#fa1f13"/>
<text x="1080.5" y="678.6" font-size="36" textLength="107.3" lengthAdjust="spacingAndGlyphs">BFU-E</text>
<text x="1080.5" y="734.4" font-size="36" textLength="109.4" lengthAdjust="spacingAndGlyphs">CFU-E</text>
<text x="1317.2" y="678.9" font-size="36" textLength="291.5" lengthAdjust="spacingAndGlyphs">Early Erythroblast</text>
<text x="1317.2" y="734.2" font-size="36" textLength="278.9" lengthAdjust="spacingAndGlyphs">Late Erythroblast</text>
<text x="1701.3" y="678.9" font-size="36" textLength="247.7" lengthAdjust="spacingAndGlyphs">Orthochromatic</text>
<text x="1701.3" y="722.7" font-size="36" textLength="193.4" lengthAdjust="spacingAndGlyphs">Erythroblast</text>
<line x1="1018.0" y1="770.6" x2="1018.0" y2="991.6" stroke="#000" stroke-width="3.6"/>
<line x1="1018.0" y1="1001.4" x2="1018.0" y2="1075.5" stroke="#000" stroke-width="3.6"/>
<line x1="1008.4" y1="991.6" x2="1027.6" y2="991.6" stroke="#000" stroke-width="3.4"/>
<line x1="1008.4" y1="1001.4" x2="1027.6" y2="1001.4" stroke="#000" stroke-width="3.4"/>
<line x1="1002.3" y1="772.3" x2="1018.0" y2="772.3" stroke="#000" stroke-width="3.4"/>
<text x="995.5" y="783.8" font-size="32" text-anchor="end">8</text>
<line x1="1002.3" y1="817.3" x2="1018.0" y2="817.3" stroke="#000" stroke-width="3.4"/>
<text x="995.5" y="828.8" font-size="32" text-anchor="end">4</text>
<line x1="1002.3" y1="864.3" x2="1018.0" y2="864.3" stroke="#000" stroke-width="3.4"/>
<text x="995.5" y="875.8" font-size="32" text-anchor="end">2</text>
<line x1="1002.3" y1="910.6" x2="1018.0" y2="910.6" stroke="#000" stroke-width="3.4"/>
<text x="995.5" y="922.1" font-size="32" text-anchor="end">1</text>
<line x1="1002.3" y1="957.2" x2="1018.0" y2="957.2" stroke="#000" stroke-width="3.4"/>
<text x="995.5" y="968.7" font-size="32" text-anchor="end">0.5</text>
<line x1="1002.3" y1="1015.6" x2="1018.0" y2="1015.6" stroke="#000" stroke-width="3.4"/>
<text x="995.5" y="1027.1" font-size="32" text-anchor="end">0.1</text>
<line x1="1002.3" y1="1044.3" x2="1018.0" y2="1044.3" stroke="#000" stroke-width="3.4"/>
<text x="995.5" y="1055.8" font-size="32" text-anchor="end">0.01</text>
<line x1="1016.2" y1="1073.7" x2="1991.7" y2="1073.7" stroke="#000" stroke-width="3.6"/>
<line x1="1162.2" y1="1073.7" x2="1162.2" y2="1090.0" stroke="#000" stroke-width="3.6"/>
<line x1="1503.8" y1="1073.7" x2="1503.8" y2="1090.0" stroke="#000" stroke-width="3.6"/>
<line x1="1845.7" y1="1073.7" x2="1845.7" y2="1090.0" stroke="#000" stroke-width="3.6"/>
<text x="1161.5" y="1122.5" font-size="31.5" text-anchor="middle" textLength="132.6" lengthAdjust="spacingAndGlyphs">untreated</text>
<text x="1503.7" y="1122.5" font-size="31.5" text-anchor="middle" textLength="176.7" lengthAdjust="spacingAndGlyphs">TfR-FcSilent</text>
<text x="1846.5" y="1122.5" font-size="31.5" text-anchor="middle" textLength="143.0" lengthAdjust="spacingAndGlyphs">TfR-FcWT</text>
<text x="0" y="0" font-size="37" font-weight="bold" text-anchor="middle" textLength="362.5" lengthAdjust="spacingAndGlyphs" transform="translate(864.8,902.5) rotate(-90)">erythroid cell counts</text>
<text x="0" y="0" font-size="37" text-anchor="middle" textLength="286.3" lengthAdjust="spacingAndGlyphs" transform="translate(907.2,907.8) rotate(-90)">ratio to untreated</text>
<circle cx="1060.1" cy="893.3" r="8.0" fill="#f5dde0"/>
<circle cx="1058.5" cy="897.8" r="8.0" fill="#f5dde0"/>
<circle cx="1052.5" cy="902.3" r="8.0" fill="#f5dde0"/>
<circle cx="1049.6" cy="906.8" r="8.0" fill="#f5dde0"/>
<circle cx="1054.1" cy="911.3" r="8.0" fill="#f5dde0"/>
<circle cx="1052.2" cy="915.8" r="8.0" fill="#f5dde0"/>
<circle cx="1059.0" cy="920.3" r="8.0" fill="#f5dde0"/>
<circle cx="1050.4" cy="924.8" r="8.0" fill="#f5dde0"/>
<circle cx="1053.7" cy="928.0" r="8.0" fill="#f5dde0"/>
<circle cx="1053.9" cy="946.2" r="8.0" fill="#f5dde0"/>
<circle cx="1109.0" cy="898.4" r="8.0" fill="#f09ba1"/>
<circle cx="1106.4" cy="902.9" r="8.0" fill="#f09ba1"/>
<circle cx="1109.1" cy="907.4" r="8.0" fill="#f09ba1"/>
<circle cx="1102.4" cy="911.9" r="8.0" fill="#f09ba1"/>
<circle cx="1113.3" cy="916.4" r="8.0" fill="#f09ba1"/>
<circle cx="1113.5" cy="920.9" r="8.0" fill="#f09ba1"/>
<circle cx="1110.5" cy="925.4" r="8.0" fill="#f09ba1"/>
<circle cx="1104.6" cy="929.8" r="8.0" fill="#f09ba1"/>
<circle cx="1107.7" cy="876.0" r="8.0" fill="#f09ba1"/>
<circle cx="1107.7" cy="981.8" r="8.0" fill="#f09ba1"/>
<circle cx="1107.7" cy="989.4" r="8.0" fill="#f09ba1"/>
<circle cx="1169.2" cy="878.0" r="8.0" fill="#ee7a82"/>
<circle cx="1165.3" cy="882.5" r="8.0" fill="#ee7a82"/>
<circle cx="1166.7" cy="887.0" r="8.0" fill="#ee7a82"/>
<circle cx="1169.2" cy="891.5" r="8.0" fill="#ee7a82"/>
<circle cx="1157.6" cy="896.0" r="8.0" fill="#ee7a82"/>
<circle cx="1164.3" cy="900.5" r="8.0" fill="#ee7a82"/>
<circle cx="1169.2" cy="905.0" r="8.0" fill="#ee7a82"/>
<circle cx="1168.6" cy="909.5" r="8.0" fill="#ee7a82"/>
<circle cx="1163.2" cy="914.0" r="8.0" fill="#ee7a82"/>
<circle cx="1155.9" cy="918.5" r="8.0" fill="#ee7a82"/>
<circle cx="1160.3" cy="923.0" r="8.0" fill="#ee7a82"/>
<circle cx="1170.8" cy="927.5" r="8.0" fill="#ee7a82"/>
<circle cx="1154.8" cy="932.0" r="8.0" fill="#ee7a82"/>
<circle cx="1158.6" cy="936.5" r="8.0" fill="#ee7a82"/>
<circle cx="1166.0" cy="938.2" r="8.0" fill="#ee7a82"/>
<circle cx="1161.9" cy="957.2" r="8.0" fill="#ee7a82"/>
<circle cx="1161.9" cy="983.5" r="8.0" fill="#ee7a82"/>
<circle cx="1161.9" cy="1001.2" r="8.0" fill="#ee7a82"/>
<circle cx="1216.6" cy="886.5" r="8.0" fill="#f1424a"/>
<circle cx="1212.1" cy="891.0" r="8.0" fill="#f1424a"/>
<circle cx="1207.4" cy="895.5" r="8.0" fill="#f1424a"/>
<circle cx="1218.7" cy="900.0" r="8.0" fill="#f1424a"/>
<circle cx="1210.7" cy="904.5" r="8.0" fill="#f1424a"/>
<circle cx="1211.5" cy="909.0" r="8.0" fill="#f1424a"/>
<circle cx="1214.0" cy="913.5" r="8.0" fill="#f1424a"/>
<circle cx="1218.4" cy="918.0" r="8.0" fill="#f1424a"/>
<circle cx="1224.7" cy="922.5" r="8.0" fill="#f1424a"/>
<circle cx="1215.2" cy="927.0" r="8.0" fill="#f1424a"/>
<circle cx="1224.8" cy="931.5" r="8.0" fill="#f1424a"/>
<circle cx="1224.8" cy="936.0" r="8.0" fill="#f1424a"/>
<circle cx="1211.3" cy="940.5" r="8.0" fill="#f1424a"/>
<circle cx="1208.2" cy="945.0" r="8.0" fill="#f1424a"/>
<circle cx="1212.8" cy="946.7" r="8.0" fill="#f1424a"/>
<circle cx="1215.9" cy="986.8" r="8.0" fill="#f1424a"/>
<circle cx="1269.5" cy="873.8" r="8.0" fill="#fa1f13"/>
<circle cx="1277.0" cy="878.3" r="8.0" fill="#fa1f13"/>
<circle cx="1261.8" cy="882.8" r="8.0" fill="#fa1f13"/>
<circle cx="1266.3" cy="887.3" r="8.0" fill="#fa1f13"/>
<circle cx="1278.5" cy="891.8" r="8.0" fill="#fa1f13"/>
<circle cx="1273.2" cy="896.3" r="8.0" fill="#fa1f13"/>
<circle cx="1263.5" cy="900.8" r="8.0" fill="#fa1f13"/>
<circle cx="1267.5" cy="905.3" r="8.0" fill="#fa1f13"/>
<circle cx="1277.0" cy="909.8" r="8.0" fill="#fa1f13"/>
<circle cx="1269.1" cy="914.3" r="8.0" fill="#fa1f13"/>
<circle cx="1261.7" cy="918.8" r="8.0" fill="#fa1f13"/>
<circle cx="1277.3" cy="923.3" r="8.0" fill="#fa1f13"/>
<circle cx="1263.5" cy="927.8" r="8.0" fill="#fa1f13"/>
<circle cx="1272.7" cy="932.3" r="8.0" fill="#fa1f13"/>
<circle cx="1272.4" cy="936.8" r="8.0" fill="#fa1f13"/>
<circle cx="1269.5" cy="941.3" r="8.0" fill="#fa1f13"/>
<circle cx="1278.5" cy="945.8" r="8.0" fill="#fa1f13"/>
<circle cx="1264.4" cy="950.3" r="8.0" fill="#fa1f13"/>
<circle cx="1272.1" cy="954.8" r="8.0" fill="#fa1f13"/>
<circle cx="1263.2" cy="959.3" r="8.0" fill="#fa1f13"/>
<circle cx="1278.6" cy="963.8" r="8.0" fill="#fa1f13"/>
<circle cx="1263.8" cy="968.3" r="8.0" fill="#fa1f13"/>
<circle cx="1270.3" cy="968.7" r="8.0" fill="#fa1f13"/>
<circle cx="1396.2" cy="841.6" r="8.0" fill="#f5dde0"/>
<circle cx="1392.0" cy="846.1" r="8.0" fill="#f5dde0"/>
<circle cx="1398.7" cy="850.6" r="8.0" fill="#f5dde0"/>
<circle cx="1391.6" cy="855.1" r="8.0" fill="#f5dde0"/>
<circle cx="1395.7" cy="859.6" r="8.0" fill="#f5dde0"/>
<circle cx="1404.7" cy="864.1" r="8.0" fill="#f5dde0"/>
<circle cx="1388.7" cy="868.6" r="8.0" fill="#f5dde0"/>
<circle cx="1392.9" cy="873.1" r="8.0" fill="#f5dde0"/>
<circle cx="1399.4" cy="877.6" r="8.0" fill="#f5dde0"/>
<circle cx="1388.7" cy="882.1" r="8.0" fill="#f5dde0"/>
<circle cx="1390.0" cy="886.6" r="8.0" fill="#f5dde0"/>
<circle cx="1402.1" cy="891.1" r="8.0" fill="#f5dde0"/>
<circle cx="1404.8" cy="895.6" r="8.0" fill="#f5dde0"/>
<circle cx="1392.9" cy="900.1" r="8.0" fill="#f5dde0"/>
<circle cx="1390.6" cy="904.6" r="8.0" fill="#f5dde0"/>
<circle cx="1404.7" cy="909.1" r="8.0" fill="#f5dde0"/>
<circle cx="1393.1" cy="913.6" r="8.0" fill="#f5dde0"/>
<circle cx="1398.1" cy="918.1" r="8.0" fill="#f5dde0"/>
<circle cx="1398.1" cy="922.6" r="8.0" fill="#f5dde0"/>
<circle cx="1398.6" cy="927.1" r="8.0" fill="#f5dde0"/>
<circle cx="1403.7" cy="931.6" r="8.0" fill="#f5dde0"/>
<circle cx="1404.5" cy="936.1" r="8.0" fill="#f5dde0"/>
<circle cx="1397.9" cy="939.1" r="8.0" fill="#f5dde0"/>
<circle cx="1396.2" cy="972.5" r="8.0" fill="#f5dde0"/>
<circle cx="1446.1" cy="881.4" r="8.0" fill="#f09ba1"/>
<circle cx="1451.0" cy="885.9" r="8.0" fill="#f09ba1"/>
<circle cx="1445.4" cy="890.4" r="8.0" fill="#f09ba1"/>
<circle cx="1455.1" cy="894.9" r="8.0" fill="#f09ba1"/>
<circle cx="1449.0" cy="899.4" r="8.0" fill="#f09ba1"/>
<circle cx="1446.6" cy="903.9" r="8.0" fill="#f09ba1"/>
<circle cx="1456.7" cy="908.4" r="8.0" fill="#f09ba1"/>
<circle cx="1454.9" cy="912.9" r="8.0" fill="#f09ba1"/>
<circle cx="1456.1" cy="917.4" r="8.0" fill="#f09ba1"/>
<circle cx="1452.6" cy="921.9" r="8.0" fill="#f09ba1"/>
<circle cx="1443.9" cy="926.4" r="8.0" fill="#f09ba1"/>
<circle cx="1447.6" cy="930.9" r="8.0" fill="#f09ba1"/>
<circle cx="1444.9" cy="935.4" r="8.0" fill="#f09ba1"/>
<circle cx="1454.9" cy="939.9" r="8.0" fill="#f09ba1"/>
<circle cx="1440.8" cy="944.4" r="8.0" fill="#f09ba1"/>
<circle cx="1454.8" cy="948.9" r="8.0" fill="#f09ba1"/>
<circle cx="1443.6" cy="953.4" r="8.0" fill="#f09ba1"/>
<circle cx="1447.9" cy="955.1" r="8.0" fill="#f09ba1"/>
<circle cx="1512.0" cy="869.6" r="8.0" fill="#ee7a82"/>
<circle cx="1500.9" cy="874.1" r="8.0" fill="#ee7a82"/>
<circle cx="1503.9" cy="878.6" r="8.0" fill="#ee7a82"/>
<circle cx="1498.1" cy="883.1" r="8.0" fill="#ee7a82"/>
<circle cx="1513.5" cy="887.6" r="8.0" fill="#ee7a82"/>
<circle cx="1498.4" cy="892.1" r="8.0" fill="#ee7a82"/>
<circle cx="1507.7" cy="896.6" r="8.0" fill="#ee7a82"/>
<circle cx="1506.4" cy="901.1" r="8.0" fill="#ee7a82"/>
<circle cx="1508.5" cy="905.6" r="8.0" fill="#ee7a82"/>
<circle cx="1503.0" cy="910.1" r="8.0" fill="#ee7a82"/>
<circle cx="1502.4" cy="914.6" r="8.0" fill="#ee7a82"/>
<circle cx="1502.8" cy="919.1" r="8.0" fill="#ee7a82"/>
<circle cx="1496.9" cy="923.6" r="8.0" fill="#ee7a82"/>
<circle cx="1501.4" cy="928.1" r="8.0" fill="#ee7a82"/>
<circle cx="1500.6" cy="932.6" r="8.0" fill="#ee7a82"/>
<circle cx="1509.7" cy="937.1" r="8.0" fill="#ee7a82"/>
<circle cx="1503.6" cy="941.6" r="8.0" fill="#ee7a82"/>
<circle cx="1497.3" cy="946.1" r="8.0" fill="#ee7a82"/>
<circle cx="1496.2" cy="950.6" r="8.0" fill="#ee7a82"/>
<circle cx="1503.2" cy="952.6" r="8.0" fill="#ee7a82"/>
<circle cx="1504.6" cy="843.8" r="8.0" fill="#ee7a82"/>
<circle cx="1504.6" cy="974.2" r="8.0" fill="#ee7a82"/>
<circle cx="1554.2" cy="866.2" r="8.0" fill="#f1424a"/>
<circle cx="1559.1" cy="870.7" r="8.0" fill="#f1424a"/>
<circle cx="1562.0" cy="875.2" r="8.0" fill="#f1424a"/>
<circle cx="1566.6" cy="879.7" r="8.0" fill="#f1424a"/>
<circle cx="1555.9" cy="884.2" r="8.0" fill="#f1424a"/>
<circle cx="1558.9" cy="888.7" r="8.0" fill="#f1424a"/>
<circle cx="1556.0" cy="893.2" r="8.0" fill="#f1424a"/>
<circle cx="1559.2" cy="897.7" r="8.0" fill="#f1424a"/>
<circle cx="1564.4" cy="902.2" r="8.0" fill="#f1424a"/>
<circle cx="1567.2" cy="906.7" r="8.0" fill="#f1424a"/>
<circle cx="1566.0" cy="911.2" r="8.0" fill="#f1424a"/>
<circle cx="1566.2" cy="915.7" r="8.0" fill="#f1424a"/>
<circle cx="1550.3" cy="920.2" r="8.0" fill="#f1424a"/>
<circle cx="1553.6" cy="924.7" r="8.0" fill="#f1424a"/>
<circle cx="1566.3" cy="929.2" r="8.0" fill="#f1424a"/>
<circle cx="1558.9" cy="930.6" r="8.0" fill="#f1424a"/>
<circle cx="1606.8" cy="812.9" r="8.0" fill="#fa1f13"/>
<circle cx="1604.8" cy="817.4" r="8.0" fill="#fa1f13"/>
<circle cx="1615.0" cy="821.9" r="8.0" fill="#fa1f13"/>
<circle cx="1613.7" cy="826.4" r="8.0" fill="#fa1f13"/>
<circle cx="1614.5" cy="830.9" r="8.0" fill="#fa1f13"/>
<circle cx="1609.5" cy="835.4" r="8.0" fill="#fa1f13"/>
<circle cx="1611.2" cy="839.9" r="8.0" fill="#fa1f13"/>
<circle cx="1619.1" cy="844.4" r="8.0" fill="#fa1f13"/>
<circle cx="1617.8" cy="848.9" r="8.0" fill="#fa1f13"/>
<circle cx="1607.9" cy="853.4" r="8.0" fill="#fa1f13"/>
<circle cx="1608.0" cy="857.9" r="8.0" fill="#fa1f13"/>
<circle cx="1604.4" cy="862.4" r="8.0" fill="#fa1f13"/>
<circle cx="1616.3" cy="866.9" r="8.0" fill="#fa1f13"/>
<circle cx="1603.8" cy="871.4" r="8.0" fill="#fa1f13"/>
<circle cx="1615.3" cy="875.9" r="8.0" fill="#fa1f13"/>
<circle cx="1620.2" cy="880.4" r="8.0" fill="#fa1f13"/>
<circle cx="1618.3" cy="884.9" r="8.0" fill="#fa1f13"/>
<circle cx="1609.8" cy="889.4" r="8.0" fill="#fa1f13"/>
<circle cx="1617.7" cy="893.9" r="8.0" fill="#fa1f13"/>
<circle cx="1605.5" cy="898.4" r="8.0" fill="#fa1f13"/>
<circle cx="1617.0" cy="902.9" r="8.0" fill="#fa1f13"/>
<circle cx="1606.4" cy="907.4" r="8.0" fill="#fa1f13"/>
<circle cx="1615.3" cy="911.9" r="8.0" fill="#fa1f13"/>
<circle cx="1603.5" cy="916.4" r="8.0" fill="#fa1f13"/>
<circle cx="1612.2" cy="920.9" r="8.0" fill="#fa1f13"/>
<circle cx="1619.8" cy="925.4" r="8.0" fill="#fa1f13"/>
<circle cx="1609.5" cy="929.8" r="8.0" fill="#fa1f13"/>
<circle cx="1731.7" cy="930.0" r="8.0" fill="#f5dde0"/>
<circle cx="1737.3" cy="934.5" r="8.0" fill="#f5dde0"/>
<circle cx="1743.0" cy="939.0" r="8.0" fill="#f5dde0"/>
<circle cx="1741.8" cy="943.5" r="8.0" fill="#f5dde0"/>
<circle cx="1742.3" cy="948.0" r="8.0" fill="#f5dde0"/>
<circle cx="1736.9" cy="952.5" r="8.0" fill="#f5dde0"/>
<circle cx="1743.5" cy="957.0" r="8.0" fill="#f5dde0"/>
<circle cx="1738.7" cy="961.5" r="8.0" fill="#f5dde0"/>
<circle cx="1730.5" cy="966.0" r="8.0" fill="#f5dde0"/>
<circle cx="1737.3" cy="970.5" r="8.0" fill="#f5dde0"/>
<circle cx="1730.0" cy="975.0" r="8.0" fill="#f5dde0"/>
<circle cx="1745.9" cy="979.5" r="8.0" fill="#f5dde0"/>
<circle cx="1746.1" cy="984.0" r="8.0" fill="#f5dde0"/>
<circle cx="1735.1" cy="988.5" r="8.0" fill="#f5dde0"/>
<circle cx="1734.7" cy="993.0" r="8.0" fill="#f5dde0"/>
<circle cx="1742.9" cy="997.5" r="8.0" fill="#f5dde0"/>
<circle cx="1732.8" cy="1002.0" r="8.0" fill="#f5dde0"/>
<circle cx="1732.3" cy="1006.5" r="8.0" fill="#f5dde0"/>
<circle cx="1732.5" cy="1011.0" r="8.0" fill="#f5dde0"/>
<circle cx="1736.7" cy="1013.9" r="8.0" fill="#f5dde0"/>
<circle cx="1800.1" cy="952.0" r="8.0" fill="#f09ba1"/>
<circle cx="1790.3" cy="956.5" r="8.0" fill="#f09ba1"/>
<circle cx="1798.1" cy="961.0" r="8.0" fill="#f09ba1"/>
<circle cx="1787.8" cy="965.5" r="8.0" fill="#f09ba1"/>
<circle cx="1792.0" cy="970.0" r="8.0" fill="#f09ba1"/>
<circle cx="1788.2" cy="974.5" r="8.0" fill="#f09ba1"/>
<circle cx="1793.1" cy="979.0" r="8.0" fill="#f09ba1"/>
<circle cx="1784.6" cy="983.5" r="8.0" fill="#f09ba1"/>
<circle cx="1790.8" cy="988.0" r="8.0" fill="#f09ba1"/>
<circle cx="1789.0" cy="992.5" r="8.0" fill="#f09ba1"/>
<circle cx="1784.0" cy="997.0" r="8.0" fill="#f09ba1"/>
<circle cx="1798.0" cy="1001.5" r="8.0" fill="#f09ba1"/>
<circle cx="1799.7" cy="1006.0" r="8.0" fill="#f09ba1"/>
<circle cx="1786.0" cy="1010.5" r="8.0" fill="#f09ba1"/>
<circle cx="1794.7" cy="1015.0" r="8.0" fill="#f09ba1"/>
<circle cx="1792.8" cy="1019.5" r="8.0" fill="#f09ba1"/>
<circle cx="1791.6" cy="1023.2" r="8.0" fill="#f09ba1"/>
<circle cx="1846.7" cy="959.6" r="8.0" fill="#ee7a82"/>
<circle cx="1840.8" cy="964.1" r="8.0" fill="#ee7a82"/>
<circle cx="1854.6" cy="968.6" r="8.0" fill="#ee7a82"/>
<circle cx="1848.8" cy="973.1" r="8.0" fill="#ee7a82"/>
<circle cx="1848.0" cy="977.6" r="8.0" fill="#ee7a82"/>
<circle cx="1854.3" cy="982.1" r="8.0" fill="#ee7a82"/>
<circle cx="1839.0" cy="986.6" r="8.0" fill="#ee7a82"/>
<circle cx="1851.7" cy="991.1" r="8.0" fill="#ee7a82"/>
<circle cx="1841.4" cy="995.6" r="8.0" fill="#ee7a82"/>
<circle cx="1841.9" cy="1000.1" r="8.0" fill="#ee7a82"/>
<circle cx="1843.2" cy="1004.6" r="8.0" fill="#ee7a82"/>
<circle cx="1850.7" cy="1009.1" r="8.0" fill="#ee7a82"/>
<circle cx="1854.3" cy="1013.6" r="8.0" fill="#ee7a82"/>
<circle cx="1850.1" cy="1018.1" r="8.0" fill="#ee7a82"/>
<circle cx="1843.1" cy="1022.6" r="8.0" fill="#ee7a82"/>
<circle cx="1839.7" cy="1027.1" r="8.0" fill="#ee7a82"/>
<circle cx="1842.6" cy="1031.6" r="8.0" fill="#ee7a82"/>
<circle cx="1843.9" cy="1033.0" r="8.0" fill="#ee7a82"/>
<circle cx="1900.7" cy="895.3" r="8.0" fill="#f1424a"/>
<circle cx="1896.2" cy="899.8" r="8.0" fill="#f1424a"/>
<circle cx="1904.6" cy="904.3" r="8.0" fill="#f1424a"/>
<circle cx="1905.7" cy="908.8" r="8.0" fill="#f1424a"/>
<circle cx="1903.0" cy="913.3" r="8.0" fill="#f1424a"/>
<circle cx="1891.7" cy="917.8" r="8.0" fill="#f1424a"/>
<circle cx="1895.6" cy="922.3" r="8.0" fill="#f1424a"/>
<circle cx="1897.4" cy="926.8" r="8.0" fill="#f1424a"/>
<circle cx="1908.9" cy="931.3" r="8.0" fill="#f1424a"/>
<circle cx="1903.1" cy="935.8" r="8.0" fill="#f1424a"/>
<circle cx="1900.8" cy="940.3" r="8.0" fill="#f1424a"/>
<circle cx="1903.4" cy="944.8" r="8.0" fill="#f1424a"/>
<circle cx="1893.2" cy="949.3" r="8.0" fill="#f1424a"/>
<circle cx="1903.6" cy="953.8" r="8.0" fill="#f1424a"/>
<circle cx="1903.1" cy="958.3" r="8.0" fill="#f1424a"/>
<circle cx="1895.1" cy="962.8" r="8.0" fill="#f1424a"/>
<circle cx="1897.8" cy="967.3" r="8.0" fill="#f1424a"/>
<circle cx="1898.8" cy="971.8" r="8.0" fill="#f1424a"/>
<circle cx="1908.5" cy="976.3" r="8.0" fill="#f1424a"/>
<circle cx="1898.0" cy="980.8" r="8.0" fill="#f1424a"/>
<circle cx="1891.8" cy="985.3" r="8.0" fill="#f1424a"/>
<circle cx="1906.0" cy="989.8" r="8.0" fill="#f1424a"/>
<circle cx="1906.9" cy="994.3" r="8.0" fill="#f1424a"/>
<circle cx="1897.4" cy="998.8" r="8.0" fill="#f1424a"/>
<circle cx="1904.4" cy="1003.3" r="8.0" fill="#f1424a"/>
<circle cx="1904.6" cy="1007.1" r="8.0" fill="#f1424a"/>
<circle cx="1959.3" cy="814.0" r="8.0" fill="#fa1f13"/>
<circle cx="1947.1" cy="818.5" r="8.0" fill="#fa1f13"/>
<circle cx="1950.2" cy="823.0" r="8.0" fill="#fa1f13"/>
<circle cx="1954.7" cy="823.0" r="8.0" fill="#fa1f13"/>
<circle cx="1954.7" cy="853.0" r="8.0" fill="#fa1f13"/>
<circle cx="1945.9" cy="857.5" r="8.0" fill="#fa1f13"/>
<circle cx="1959.5" cy="862.0" r="8.0" fill="#fa1f13"/>
<circle cx="1948.6" cy="866.5" r="8.0" fill="#fa1f13"/>
<circle cx="1958.0" cy="871.0" r="8.0" fill="#fa1f13"/>
<circle cx="1945.4" cy="875.5" r="8.0" fill="#fa1f13"/>
<circle cx="1950.2" cy="880.0" r="8.0" fill="#fa1f13"/>
<circle cx="1955.5" cy="884.5" r="8.0" fill="#fa1f13"/>
<circle cx="1957.7" cy="889.0" r="8.0" fill="#fa1f13"/>
<circle cx="1961.6" cy="893.5" r="8.0" fill="#fa1f13"/>
<circle cx="1952.8" cy="898.0" r="8.0" fill="#fa1f13"/>
<circle cx="1950.2" cy="902.5" r="8.0" fill="#fa1f13"/>
<circle cx="1951.7" cy="907.0" r="8.0" fill="#fa1f13"/>
<circle cx="1958.8" cy="911.5" r="8.0" fill="#fa1f13"/>
<circle cx="1960.0" cy="916.0" r="8.0" fill="#fa1f13"/>
<circle cx="1948.7" cy="920.5" r="8.0" fill="#fa1f13"/>
<circle cx="1958.6" cy="925.0" r="8.0" fill="#fa1f13"/>
<circle cx="1953.1" cy="928.0" r="8.0" fill="#fa1f13"/>
<circle cx="1954.4" cy="956.7" r="8.0" fill="#fa1f13"/>
<circle cx="1954.4" cy="973.6" r="8.0" fill="#fa1f13"/>
<line x1="1030.0" y1="910.6" x2="1990.0" y2="910.6" stroke="#000" stroke-width="5.0" stroke-linecap="round" stroke-dasharray="0 11.6"/>
<line x1="1053.9" y1="899.7" x2="1053.9" y2="924.5" stroke="#000" stroke-width="3.6"/>
<line x1="1044.9" y1="899.7" x2="1062.9" y2="899.7" stroke="#000" stroke-width="3.6"/>
<line x1="1044.9" y1="924.5" x2="1062.9" y2="924.5" stroke="#000" stroke-width="3.6"/>
<line x1="1036.5" y1="910.3" x2="1071.3" y2="910.3" stroke="#000" stroke-width="3.6"/>
<line x1="1107.7" y1="892.9" x2="1107.7" y2="936.1" stroke="#000" stroke-width="3.6"/>
<line x1="1098.7" y1="892.9" x2="1116.7" y2="892.9" stroke="#000" stroke-width="3.6"/>
<line x1="1098.7" y1="936.1" x2="1116.7" y2="936.1" stroke="#000" stroke-width="3.6"/>
<line x1="1090.3" y1="910.3" x2="1125.1" y2="910.3" stroke="#000" stroke-width="3.6"/>
<line x1="1161.9" y1="888.3" x2="1161.9" y2="944.5" stroke="#000" stroke-width="3.6"/>
<line x1="1152.9" y1="888.3" x2="1170.9" y2="888.3" stroke="#000" stroke-width="3.6"/>
<line x1="1152.9" y1="944.5" x2="1170.9" y2="944.5" stroke="#000" stroke-width="3.6"/>
<line x1="1144.5" y1="910.3" x2="1179.3" y2="910.3" stroke="#000" stroke-width="3.6"/>
<line x1="1215.9" y1="895.1" x2="1215.9" y2="932.3" stroke="#000" stroke-width="3.6"/>
<line x1="1206.9" y1="895.1" x2="1224.9" y2="895.1" stroke="#000" stroke-width="3.6"/>
<line x1="1206.9" y1="932.3" x2="1224.9" y2="932.3" stroke="#000" stroke-width="3.6"/>
<line x1="1198.5" y1="910.3" x2="1233.3" y2="910.3" stroke="#000" stroke-width="3.6"/>
<line x1="1270.2" y1="891.2" x2="1270.2" y2="939.4" stroke="#000" stroke-width="3.6"/>
<line x1="1261.2" y1="891.2" x2="1279.2" y2="891.2" stroke="#000" stroke-width="3.6"/>
<line x1="1261.2" y1="939.4" x2="1279.2" y2="939.4" stroke="#000" stroke-width="3.6"/>
<line x1="1252.8" y1="910.3" x2="1287.6" y2="910.3" stroke="#000" stroke-width="3.6"/>
<line x1="1396.2" y1="862.4" x2="1396.2" y2="926.8" stroke="#000" stroke-width="3.6"/>
<line x1="1387.2" y1="862.4" x2="1405.2" y2="862.4" stroke="#000" stroke-width="3.6"/>
<line x1="1387.2" y1="926.8" x2="1405.2" y2="926.8" stroke="#000" stroke-width="3.6"/>
<line x1="1378.8" y1="886.6" x2="1413.6" y2="886.6" stroke="#000" stroke-width="3.6"/>
<line x1="1449.6" y1="895.1" x2="1449.6" y2="940.3" stroke="#000" stroke-width="3.6"/>
<line x1="1440.6" y1="895.1" x2="1458.6" y2="895.1" stroke="#000" stroke-width="3.6"/>
<line x1="1440.6" y1="940.3" x2="1458.6" y2="940.3" stroke="#000" stroke-width="3.6"/>
<line x1="1432.2" y1="913.2" x2="1467.0" y2="913.2" stroke="#000" stroke-width="3.6"/>
<line x1="1504.6" y1="876.0" x2="1504.6" y2="954.3" stroke="#000" stroke-width="3.6"/>
<line x1="1495.6" y1="876.0" x2="1513.6" y2="876.0" stroke="#000" stroke-width="3.6"/>
<line x1="1495.6" y1="954.3" x2="1513.6" y2="954.3" stroke="#000" stroke-width="3.6"/>
<line x1="1487.2" y1="903.9" x2="1522.0" y2="903.9" stroke="#000" stroke-width="3.6"/>
<line x1="1558.3" y1="872.6" x2="1558.3" y2="910.3" stroke="#000" stroke-width="3.6"/>
<line x1="1549.3" y1="872.6" x2="1567.3" y2="872.6" stroke="#000" stroke-width="3.6"/>
<line x1="1549.3" y1="910.3" x2="1567.3" y2="910.3" stroke="#000" stroke-width="3.6"/>
<line x1="1540.9" y1="889.0" x2="1575.7" y2="889.0" stroke="#000" stroke-width="3.6"/>
<line x1="1612.1" y1="829.4" x2="1612.1" y2="898.8" stroke="#000" stroke-width="3.6"/>
<line x1="1603.1" y1="829.4" x2="1621.1" y2="829.4" stroke="#000" stroke-width="3.6"/>
<line x1="1603.1" y1="898.8" x2="1621.1" y2="898.8" stroke="#000" stroke-width="3.6"/>
<line x1="1594.7" y1="855.6" x2="1629.5" y2="855.6" stroke="#000" stroke-width="3.6"/>
<line x1="1738.1" y1="943.1" x2="1738.1" y2="1004.1" stroke="#000" stroke-width="3.6"/>
<line x1="1729.1" y1="943.1" x2="1747.1" y2="943.1" stroke="#000" stroke-width="3.6"/>
<line x1="1729.1" y1="1004.1" x2="1747.1" y2="1004.1" stroke="#000" stroke-width="3.6"/>
<line x1="1720.7" y1="967.7" x2="1755.5" y2="967.7" stroke="#000" stroke-width="3.6"/>
<line x1="1792.3" y1="965.2" x2="1792.3" y2="1012.6" stroke="#000" stroke-width="3.6"/>
<line x1="1783.3" y1="965.2" x2="1801.3" y2="965.2" stroke="#000" stroke-width="3.6"/>
<line x1="1783.3" y1="1012.6" x2="1801.3" y2="1012.6" stroke="#000" stroke-width="3.6"/>
<line x1="1774.9" y1="1002.4" x2="1809.7" y2="1002.4" stroke="#000" stroke-width="3.6"/>
<line x1="1846.4" y1="981.2" x2="1846.4" y2="1022.7" stroke="#000" stroke-width="3.6"/>
<line x1="1837.4" y1="981.2" x2="1855.4" y2="981.2" stroke="#000" stroke-width="3.6"/>
<line x1="1837.4" y1="1022.7" x2="1855.4" y2="1022.7" stroke="#000" stroke-width="3.6"/>
<line x1="1829.0" y1="1006.6" x2="1863.8" y2="1006.6" stroke="#000" stroke-width="3.6"/>
<line x1="1900.3" y1="911.8" x2="1900.3" y2="1003.2" stroke="#000" stroke-width="3.6"/>
<line x1="1891.3" y1="911.8" x2="1909.3" y2="911.8" stroke="#000" stroke-width="3.6"/>
<line x1="1891.3" y1="1003.2" x2="1909.3" y2="1003.2" stroke="#000" stroke-width="3.6"/>
<line x1="1882.9" y1="943.1" x2="1917.7" y2="943.1" stroke="#000" stroke-width="3.6"/>
<line x1="1954.4" y1="847.8" x2="1954.4" y2="941.5" stroke="#000" stroke-width="3.6"/>
<line x1="1945.4" y1="847.8" x2="1963.4" y2="847.8" stroke="#000" stroke-width="3.6"/>
<line x1="1945.4" y1="941.5" x2="1963.4" y2="941.5" stroke="#000" stroke-width="3.6"/>
<line x1="1937.0" y1="880.2" x2="1971.8" y2="880.2" stroke="#000" stroke-width="3.6"/>
<line x1="1385.2" y1="823.5" x2="1579.1" y2="823.5" stroke="#000" stroke-width="3.6"/>
<text x="1481.7" y="805.4" font-size="34" text-anchor="middle" textLength="34.3" lengthAdjust="spacingAndGlyphs">ns</text>
<line x1="1589.2" y1="790.5" x2="1636.6" y2="790.5" stroke="#000" stroke-width="3.6"/>
<text x="1580.1" y="782.4" font-size="36.5" font-family="DejaVu Sans, sans-serif" font-weight="bold" letter-spacing="3.91" fill="#000" stroke="#000" stroke-width="0.7" style="font-family:'DejaVu Sans',sans-serif">***</text>
<line x1="1711.0" y1="905.9" x2="1758.4" y2="905.9" stroke="#000" stroke-width="3.6"/>
<text x="1713.9" y="899.4" font-size="36.5" font-family="DejaVu Sans, sans-serif" font-weight="bold" letter-spacing="3.91" fill="#000" stroke="#000" stroke-width="0.7" style="font-family:'DejaVu Sans',sans-serif">**</text>
<line x1="1782.1" y1="928.8" x2="1855.7" y2="928.8" stroke="#000" stroke-width="3.6"/>
<text x="1774.7" y="921.4" font-size="36.5" font-family="DejaVu Sans, sans-serif" font-weight="bold" letter-spacing="3.91" fill="#000" stroke="#000" stroke-width="0.7" style="font-family:'DejaVu Sans',sans-serif">****</text>
<line x1="1876.4" y1="872.9" x2="1924.3" y2="872.9" stroke="#000" stroke-width="3.6"/>
<text x="1891.0" y="865.4" font-size="36.5" font-family="DejaVu Sans, sans-serif" font-weight="bold" letter-spacing="3.91" fill="#000" stroke="#000" stroke-width="0.7" style="font-family:'DejaVu Sans',sans-serif">*</text>
<line x1="1931.1" y1="792.5" x2="1979.3" y2="792.5" stroke="#000" stroke-width="3.6"/>
<text x="1955.3" y="773.0" font-size="34" text-anchor="middle" textLength="34.3" lengthAdjust="spacingAndGlyphs">ns</text>
<text x="1.9" y="1229.0" font-size="84" font-weight="bold">D</text>
<line x1="273.3" y1="1253.1" x2="273.3" y2="1637.1" stroke="#000" stroke-width="3.6"/>
<line x1="258.5" y1="1254.8" x2="273.3" y2="1254.8" stroke="#000" stroke-width="3.4"/>
<text x="253.5" y="1266.3" font-size="32" font-weight="bold" text-anchor="end">4</text>
<line x1="258.5" y1="1350.0" x2="273.3" y2="1350.0" stroke="#000" stroke-width="3.4"/>
<text x="253.5" y="1361.5" font-size="32" font-weight="bold" text-anchor="end">2</text>
<line x1="258.5" y1="1445.3" x2="273.3" y2="1445.3" stroke="#000" stroke-width="3.4"/>
<text x="253.5" y="1456.8" font-size="32" font-weight="bold" text-anchor="end">1</text>
<line x1="258.5" y1="1540.5" x2="273.3" y2="1540.5" stroke="#000" stroke-width="3.4"/>
<text x="253.5" y="1552.0" font-size="32" font-weight="bold" text-anchor="end">0.5</text>
<line x1="258.5" y1="1635.4" x2="273.3" y2="1635.4" stroke="#000" stroke-width="3.4"/>
<text x="253.5" y="1646.9" font-size="32" font-weight="bold" text-anchor="end">0.25</text>
<line x1="258.5" y1="1635.4" x2="772.0" y2="1635.4" stroke="#000" stroke-width="3.6"/>
<line x1="372.5" y1="1635.4" x2="372.5" y2="1652.5" stroke="#000" stroke-width="3.6"/>
<line x1="521.4" y1="1635.4" x2="521.4" y2="1652.5" stroke="#000" stroke-width="3.6"/>
<line x1="670.4" y1="1635.4" x2="670.4" y2="1652.5" stroke="#000" stroke-width="3.6"/>
<text x="0" y="0" font-size="32.5" text-anchor="end" transform="translate(382.5,1680.5) rotate(-45)">untreated</text>
<text x="0" y="0" font-size="32.5" text-anchor="end" transform="translate(532.0,1680.5) rotate(-45)">TfR-FcSilent</text>
<text x="0" y="0" font-size="32.5" text-anchor="end" transform="translate(681.0,1680.5) rotate(-45)">TfR-FcWT</text>
<text x="0" y="0" font-size="37" font-weight="bold" text-anchor="middle" textLength="283.2" lengthAdjust="spacingAndGlyphs" transform="translate(102.0,1427.0) rotate(-90)">all myeloid cells</text>
<text x="0" y="0" font-size="37" text-anchor="middle" textLength="280.9" lengthAdjust="spacingAndGlyphs" transform="translate(145.2,1426.7) rotate(-90)">ratio to untreated</text>
<path d="M377,1320.3 V1292.3 H669.5 V1410.6" fill="none" stroke="#000" stroke-width="3.6"/>
<path d="M377,1370 V1348.3 H518 V1372" fill="none" stroke="#000" stroke-width="3.6"/>
<path d="M528,1372 V1348.3 H669.5" fill="none" stroke="#000" stroke-width="3.6"/>
<text x="500.5" y="1284.9" font-size="36.5" font-family="DejaVu Sans, sans-serif" font-weight="bold" letter-spacing="4.11" fill="#000" stroke="#000" stroke-width="0.7" style="font-family:'DejaVu Sans',sans-serif">**</text>
<text x="437.7" y="1341.4" font-size="36.5" font-family="DejaVu Sans, sans-serif" font-weight="bold" letter-spacing="3.71" fill="#000" stroke="#000" stroke-width="0.7" style="font-family:'DejaVu Sans',sans-serif">*</text>
<text x="598.5" y="1330.7" font-size="34" text-anchor="middle" textLength="34.3" lengthAdjust="spacingAndGlyphs">ns</text>
<circle cx="374.0" cy="1390.0" r="8.8" fill="#fff" stroke="#7f7f82" stroke-width="2.4"/>
<path d="M364.0,1390.0 A10,10 0 0 1 384.0,1390.0 Z" fill="#7f7f82" stroke="none" stroke-width="0"/>
<circle cx="362.0" cy="1396.0" r="8.8" fill="#fff" stroke="#7f7f82" stroke-width="2.4"/>
<rect x="375.2" y="1395.2" width="17.6" height="17.6" fill="#fff" stroke="#7f7f82" stroke-width="2.4"/>
<rect x="400.0" y="1397.0" width="20.0" height="20.0" fill="#9d9da1"/>
<circle cx="346.0" cy="1403.0" r="10.0" fill="#9d9da1"/>
<rect x="321.0" y="1402.0" width="20.0" height="20.0" fill="#7f7f82"/>
<rect x="325.2" y="1409.2" width="17.6" height="17.6" fill="#fff" stroke="#7f7f82" stroke-width="2.4"/>
<rect x="342.0" y="1404.0" width="20.0" height="20.0" fill="#7f7f82"/>
<rect x="353.2" y="1411.2" width="17.6" height="17.6" fill="#fff" stroke="#9d9da1" stroke-width="2.4"/>
<polygon points="380.0,1404.0 392.0,1416.0 380.0,1428.0 368.0,1416.0" fill="#9d9da1"/>
<polygon points="359.0,1419.0 369.5,1438.5 348.5,1438.5" fill="#9d9da1"/>
<rect x="385.0" y="1410.0" width="20.0" height="20.0" fill="#7f7f82"/>
<rect x="336.2" y="1419.2" width="17.6" height="17.6" fill="#fff" stroke="#7f7f82" stroke-width="2.4"/>
<circle cx="385.0" cy="1430.0" r="10.0" fill="#7f7f82"/>
<rect x="398.0" y="1422.0" width="20.0" height="20.0" fill="#9d9da1"/>
<polygon points="404.0,1430.0 416.0,1442.0 404.0,1454.0 392.0,1442.0" fill="#9d9da1"/>
<rect x="321.2" y="1431.2" width="17.6" height="17.6" fill="#fff" stroke="#9d9da1" stroke-width="2.4"/>
<rect x="326.0" y="1442.0" width="20.0" height="20.0" fill="#7f7f82"/>
<polygon points="355.0,1444.0 365.5,1463.5 344.5,1463.5" fill="#9d9da1"/>
<polygon points="345.0,1459.0 355.5,1478.5 334.5,1478.5" fill="#9d9da1"/>
<rect x="355.0" y="1452.0" width="20.0" height="20.0" fill="#7f7f82"/>
<circle cx="378.0" cy="1462.0" r="8.8" fill="#fff" stroke="#7f7f82" stroke-width="2.4"/>
<rect x="387.2" y="1459.2" width="17.6" height="17.6" fill="#fff" stroke="#7f7f82" stroke-width="2.4"/>
<rect x="351.0" y="1464.0" width="20.0" height="20.0" fill="#7f7f82"/>
<circle cx="388.0" cy="1480.0" r="10.0" fill="#9d9da1"/>
<rect x="393.2" y="1463.2" width="17.6" height="17.6" fill="#fff" stroke="#7f7f82" stroke-width="2.4"/>
<circle cx="371.6" cy="1496.0" r="8.8" fill="#fff" stroke="#7f7f82" stroke-width="2.4"/>
<path d="M361.6,1496.0 A10,10 0 0 1 381.6,1496.0 Z" fill="#7f7f82" stroke="none" stroke-width="0"/>
<circle cx="371.6" cy="1516.0" r="8.8" fill="#fff" stroke="#7f7f82" stroke-width="2.4"/>
<path d="M361.6,1516.0 A10,10 0 0 1 381.6,1516.0 Z" fill="#7f7f82" stroke="none" stroke-width="0"/>
<line x1="372.1" y1="1423.9" x2="372.1" y2="1471.3" stroke="#000" stroke-width="3.6"/>
<line x1="347.6" y1="1423.9" x2="396.6" y2="1423.9" stroke="#000" stroke-width="3.6"/>
<line x1="347.6" y1="1471.3" x2="396.6" y2="1471.3" stroke="#000" stroke-width="3.6"/>
<line x1="323.1" y1="1445.2" x2="421.1" y2="1445.2" stroke="#000" stroke-width="3.6"/>
<rect x="511.0" y="1399.6" width="20.0" height="20.0" fill="#62a3f5"/>
<circle cx="517.0" cy="1447.0" r="10.0" fill="#62a3f5"/>
<rect x="548.0" y="1441.0" width="20.0" height="20.0" fill="#62a3f5"/>
<rect x="480.2" y="1449.2" width="17.6" height="17.6" fill="#fff" stroke="#62a3f5" stroke-width="2.4"/>
<rect x="496.0" y="1448.0" width="20.0" height="20.0" fill="#62a3f5"/>
<polygon points="512.0,1448.0 524.0,1460.0 512.0,1472.0 500.0,1460.0" fill="#62a3f5"/>
<rect x="531.2" y="1447.2" width="17.6" height="17.6" fill="#fff" stroke="#62a3f5" stroke-width="2.4"/>
<circle cx="545.0" cy="1450.0" r="8.8" fill="#fff" stroke="#62a3f5" stroke-width="2.4"/>
<path d="M535.0,1450.0 A10,10 0 0 1 555.0,1450.0 Z" fill="#62a3f5" stroke="none" stroke-width="0"/>
<rect x="485.0" y="1456.0" width="20.0" height="20.0" fill="#62a3f5"/>
<rect x="473.2" y="1459.2" width="17.6" height="17.6" fill="#fff" stroke="#62a3f5" stroke-width="2.4"/>
<circle cx="530.0" cy="1468.0" r="10.0" fill="#62a3f5"/>
<rect x="540.0" y="1458.0" width="20.0" height="20.0" fill="#62a3f5"/>
<circle cx="505.0" cy="1475.0" r="10.0" fill="#62a3f5"/>
<circle cx="520.0" cy="1480.0" r="10.0" fill="#62a3f5"/>
<polygon points="540.0,1472.0 552.0,1484.0 540.0,1496.0 528.0,1484.0" fill="#62a3f5"/>
<circle cx="530.0" cy="1490.0" r="10.0" fill="#62a3f5"/>
<circle cx="507.0" cy="1494.0" r="8.8" fill="#fff" stroke="#62a3f5" stroke-width="2.4"/>
<rect x="512.2" y="1506.2" width="17.6" height="17.6" fill="#fff" stroke="#62a3f5" stroke-width="2.4"/>
<rect x="511.0" y="1516.0" width="20.0" height="9.0" fill="#62a3f5"/>
<polygon points="521.0,1532.7 533.0,1544.7 521.0,1556.7 509.0,1544.7" fill="#62a3f5"/>
<line x1="521.0" y1="1442.1" x2="521.0" y2="1497.3" stroke="#000" stroke-width="3.6"/>
<line x1="496.4" y1="1442.1" x2="545.6" y2="1442.1" stroke="#000" stroke-width="3.6"/>
<line x1="496.4" y1="1497.3" x2="545.6" y2="1497.3" stroke="#000" stroke-width="3.6"/>
<line x1="471.5" y1="1467.0" x2="570.5" y2="1467.0" stroke="#000" stroke-width="3.6"/>
<circle cx="675.0" cy="1432.6" r="10.0" fill="#f2414a"/>
<circle cx="668.0" cy="1440.0" r="10.0" fill="#f2414a"/>
<rect x="641.2" y="1443.2" width="17.6" height="17.6" fill="#fff" stroke="#f2414a" stroke-width="2.4"/>
<rect x="631.2" y="1453.2" width="17.6" height="17.6" fill="#fff" stroke="#f2414a" stroke-width="2.4"/>
<rect x="662.0" y="1444.0" width="20.0" height="20.0" fill="#f2414a"/>
<polygon points="690.0,1447.0 700.5,1466.5 679.5,1466.5" fill="#f2414a"/>
<circle cx="630.0" cy="1466.0" r="10.0" fill="#f2414a"/>
<rect x="651.2" y="1459.2" width="17.6" height="17.6" fill="#fff" stroke="#f2414a" stroke-width="2.4"/>
<rect x="650.0" y="1458.0" width="20.0" height="9.0" fill="#f2414a"/>
<circle cx="645.0" cy="1473.0" r="10.0" fill="#f2414a"/>
<rect x="675.0" y="1462.0" width="20.0" height="20.0" fill="#f2414a"/>
<rect x="703.2" y="1458.2" width="17.6" height="17.6" fill="#fff" stroke="#f2414a" stroke-width="2.4"/>
<circle cx="702.0" cy="1478.0" r="10.0" fill="#f2414a"/>
<rect x="629.2" y="1476.2" width="17.6" height="17.6" fill="#fff" stroke="#f2414a" stroke-width="2.4"/>
<rect x="628.0" y="1475.0" width="20.0" height="9.0" fill="#f2414a"/>
<circle cx="655.0" cy="1490.0" r="10.0" fill="#f2414a"/>
<rect x="668.0" y="1478.0" width="20.0" height="20.0" fill="#f2414a"/>
<rect x="657.2" y="1491.2" width="17.6" height="17.6" fill="#fff" stroke="#f2414a" stroke-width="2.4"/>
<circle cx="628.0" cy="1494.0" r="10.0" fill="#f2414a"/>
<rect x="680.0" y="1488.0" width="20.0" height="20.0" fill="#f2414a"/>
<circle cx="638.0" cy="1512.0" r="8.8" fill="#fff" stroke="#f2414a" stroke-width="2.4"/>
<path d="M628.0,1512.0 A10,10 0 0 1 648.0,1512.0 Z" fill="#f2414a" stroke="none" stroke-width="0"/>
<rect x="650.0" y="1500.0" width="20.0" height="20.0" fill="#f2414a"/>
<polygon points="700.0,1504.0 710.5,1523.5 689.5,1523.5" fill="#f2414a"/>
<circle cx="679.0" cy="1516.0" r="8.8" fill="#fff" stroke="#f2414a" stroke-width="2.4"/>
<path d="M669.0,1516.0 A10,10 0 0 1 689.0,1516.0 Z" fill="#f2414a" stroke="none" stroke-width="0"/>
<circle cx="650.0" cy="1516.0" r="10.0" fill="#f2414a"/>
<line x1="670.3" y1="1451.6" x2="670.3" y2="1500.4" stroke="#000" stroke-width="3.6"/>
<line x1="646.1" y1="1451.6" x2="694.5" y2="1451.6" stroke="#000" stroke-width="3.6"/>
<line x1="646.1" y1="1500.4" x2="694.5" y2="1500.4" stroke="#000" stroke-width="3.6"/>
<line x1="620.5" y1="1474.3" x2="720.1" y2="1474.3" stroke="#000" stroke-width="3.6"/>
<line x1="284.0" y1="1445.3" x2="768.0" y2="1445.3" stroke="#000" stroke-width="5.0" stroke-linecap="round" stroke-dasharray="0 11.6"/>
<text x="741.2" y="1225.5" font-size="84" font-weight="bold" textLength="52.4" lengthAdjust="spacingAndGlyphs">E</text>
<circle cx="1043.0" cy="1241.2" r="8.5" fill="#8e8e92"/>
<circle cx="1043.0" cy="1293.9" r="8.5" fill="#c8def6"/>
<circle cx="1355.9" cy="1241.2" r="8.5" fill="#b9b9f8"/>
<circle cx="1355.9" cy="1293.4" r="8.5" fill="#8b8bf5"/>
<circle cx="1676.9" cy="1241.2" r="8.5" fill="#5b53f5"/>
<circle cx="1676.9" cy="1293.4" r="8.5" fill="#3fd321"/>
<text x="1086.8" y="1253.5" font-size="36" textLength="176.3" lengthAdjust="spacingAndGlyphs">Myeloblast</text>
<text x="1086.8" y="1304.6" font-size="36" textLength="234.2" lengthAdjust="spacingAndGlyphs">Pro-Myelocyte</text>
<text x="1399.8" y="1252.8" font-size="36" textLength="162.8" lengthAdjust="spacingAndGlyphs">Myelocyte</text>
<text x="1399.8" y="1303.8" font-size="36" textLength="257.7" lengthAdjust="spacingAndGlyphs">Meta-Myelocyte</text>
<text x="1721.6" y="1252.8" font-size="36" textLength="168.0" lengthAdjust="spacingAndGlyphs">Neutrophil</text>
<text x="1721.6" y="1303.8" font-size="36" textLength="157.5" lengthAdjust="spacingAndGlyphs">Monocyte</text>
<line x1="1017.6" y1="1328.1" x2="1017.6" y2="1548.7" stroke="#000" stroke-width="3.6"/>
<line x1="1017.6" y1="1558.0" x2="1017.6" y2="1634.3" stroke="#000" stroke-width="3.6"/>
<line x1="1008.0" y1="1548.7" x2="1027.2" y2="1548.7" stroke="#000" stroke-width="3.4"/>
<line x1="1008.0" y1="1558.0" x2="1027.2" y2="1558.0" stroke="#000" stroke-width="3.4"/>
<line x1="1002.1" y1="1329.8" x2="1017.6" y2="1329.8" stroke="#000" stroke-width="3.4"/>
<text x="995.0" y="1341.3" font-size="32" text-anchor="end">8</text>
<line x1="1002.1" y1="1375.6" x2="1017.6" y2="1375.6" stroke="#000" stroke-width="3.4"/>
<text x="995.0" y="1387.1" font-size="32" text-anchor="end">4</text>
<line x1="1002.1" y1="1421.9" x2="1017.6" y2="1421.9" stroke="#000" stroke-width="3.4"/>
<text x="995.0" y="1433.4" font-size="32" text-anchor="end">2</text>
<line x1="1002.1" y1="1468.3" x2="1017.6" y2="1468.3" stroke="#000" stroke-width="3.4"/>
<text x="995.0" y="1479.8" font-size="32" text-anchor="end">1</text>
<line x1="1002.1" y1="1514.8" x2="1017.6" y2="1514.8" stroke="#000" stroke-width="3.4"/>
<text x="995.0" y="1526.3" font-size="32" text-anchor="end">0.5</text>
<line x1="1002.1" y1="1572.0" x2="1017.6" y2="1572.0" stroke="#000" stroke-width="3.4"/>
<text x="995.0" y="1583.5" font-size="32" text-anchor="end">0.1</text>
<line x1="1002.1" y1="1601.5" x2="1017.6" y2="1601.5" stroke="#000" stroke-width="3.4"/>
<text x="995.0" y="1613.0" font-size="32" text-anchor="end">0.01</text>
<line x1="1015.8" y1="1632.5" x2="1991.7" y2="1632.5" stroke="#000" stroke-width="3.6"/>
<line x1="1164.0" y1="1632.5" x2="1164.0" y2="1648.5" stroke="#000" stroke-width="3.6"/>
<line x1="1504.0" y1="1632.5" x2="1504.0" y2="1648.5" stroke="#000" stroke-width="3.6"/>
<line x1="1843.6" y1="1632.5" x2="1843.6" y2="1648.5" stroke="#000" stroke-width="3.6"/>
<text x="1163.8" y="1677.5" font-size="31.5" text-anchor="middle" textLength="132.6" lengthAdjust="spacingAndGlyphs">untreated</text>
<text x="1504.0" y="1677.5" font-size="31.5" text-anchor="middle" textLength="176.7" lengthAdjust="spacingAndGlyphs">TfR-FcSilent</text>
<text x="1844.5" y="1677.5" font-size="31.5" text-anchor="middle" textLength="143.0" lengthAdjust="spacingAndGlyphs">TfR-FcWT</text>
<text x="0" y="0" font-size="37" font-weight="bold" text-anchor="middle" textLength="344.3" lengthAdjust="spacingAndGlyphs" transform="translate(863.9,1462.6) rotate(-90)">myeloid cell counts</text>
<text x="0" y="0" font-size="37" text-anchor="middle" textLength="280.7" lengthAdjust="spacingAndGlyphs" transform="translate(906.2,1463.4) rotate(-90)">ratio to untreated</text>
<circle cx="1042.3" cy="1445.3" r="8.0" fill="#8e8e92"/>
<circle cx="1047.9" cy="1449.8" r="8.0" fill="#8e8e92"/>
<circle cx="1053.6" cy="1454.3" r="8.0" fill="#8e8e92"/>
<circle cx="1052.4" cy="1458.8" r="8.0" fill="#8e8e92"/>
<circle cx="1052.9" cy="1463.3" r="8.0" fill="#8e8e92"/>
<circle cx="1047.5" cy="1467.8" r="8.0" fill="#8e8e92"/>
<circle cx="1054.1" cy="1472.3" r="8.0" fill="#8e8e92"/>
<circle cx="1049.3" cy="1476.8" r="8.0" fill="#8e8e92"/>
<circle cx="1041.1" cy="1481.3" r="8.0" fill="#8e8e92"/>
<circle cx="1048.3" cy="1482.9" r="8.0" fill="#8e8e92"/>
<circle cx="1048.7" cy="1503.6" r="8.0" fill="#8e8e92"/>
<circle cx="1048.7" cy="1517.7" r="8.0" fill="#8e8e92"/>
<circle cx="1103.0" cy="1448.0" r="8.0" fill="#c8def6"/>
<circle cx="1093.2" cy="1452.5" r="8.0" fill="#c8def6"/>
<circle cx="1101.0" cy="1457.0" r="8.0" fill="#c8def6"/>
<circle cx="1090.7" cy="1461.5" r="8.0" fill="#c8def6"/>
<circle cx="1094.9" cy="1466.0" r="8.0" fill="#c8def6"/>
<circle cx="1091.1" cy="1470.5" r="8.0" fill="#c8def6"/>
<circle cx="1096.0" cy="1475.0" r="8.0" fill="#c8def6"/>
<circle cx="1087.5" cy="1479.5" r="8.0" fill="#c8def6"/>
<circle cx="1093.7" cy="1484.0" r="8.0" fill="#c8def6"/>
<circle cx="1091.9" cy="1488.5" r="8.0" fill="#c8def6"/>
<circle cx="1091.1" cy="1488.5" r="8.0" fill="#c8def6"/>
<circle cx="1095.2" cy="1421.7" r="8.0" fill="#c8def6"/>
<circle cx="1095.2" cy="1506.4" r="8.0" fill="#c8def6"/>
<circle cx="1095.2" cy="1526.2" r="8.0" fill="#c8def6"/>
<circle cx="1095.2" cy="1543.0" r="8.0" fill="#c8def6"/>
<circle cx="1142.1" cy="1446.7" r="8.0" fill="#b9b9f8"/>
<circle cx="1136.2" cy="1451.2" r="8.0" fill="#b9b9f8"/>
<circle cx="1150.0" cy="1455.7" r="8.0" fill="#b9b9f8"/>
<circle cx="1144.2" cy="1460.2" r="8.0" fill="#b9b9f8"/>
<circle cx="1143.4" cy="1464.7" r="8.0" fill="#b9b9f8"/>
<circle cx="1149.7" cy="1469.2" r="8.0" fill="#b9b9f8"/>
<circle cx="1134.4" cy="1473.7" r="8.0" fill="#b9b9f8"/>
<circle cx="1147.1" cy="1478.2" r="8.0" fill="#b9b9f8"/>
<circle cx="1136.8" cy="1482.7" r="8.0" fill="#b9b9f8"/>
<circle cx="1139.6" cy="1487.1" r="8.0" fill="#b9b9f8"/>
<circle cx="1141.8" cy="1507.8" r="8.0" fill="#b9b9f8"/>
<circle cx="1141.8" cy="1521.4" r="8.0" fill="#b9b9f8"/>
<circle cx="1187.9" cy="1442.5" r="8.0" fill="#8b8bf5"/>
<circle cx="1183.4" cy="1447.0" r="8.0" fill="#8b8bf5"/>
<circle cx="1191.8" cy="1451.5" r="8.0" fill="#8b8bf5"/>
<circle cx="1192.9" cy="1456.0" r="8.0" fill="#8b8bf5"/>
<circle cx="1190.2" cy="1460.5" r="8.0" fill="#8b8bf5"/>
<circle cx="1178.9" cy="1465.0" r="8.0" fill="#8b8bf5"/>
<circle cx="1182.8" cy="1469.5" r="8.0" fill="#8b8bf5"/>
<circle cx="1184.6" cy="1474.0" r="8.0" fill="#8b8bf5"/>
<circle cx="1196.1" cy="1478.5" r="8.0" fill="#8b8bf5"/>
<circle cx="1190.3" cy="1483.0" r="8.0" fill="#8b8bf5"/>
<circle cx="1188.0" cy="1487.5" r="8.0" fill="#8b8bf5"/>
<circle cx="1190.6" cy="1492.0" r="8.0" fill="#8b8bf5"/>
<circle cx="1183.9" cy="1494.2" r="8.0" fill="#8b8bf5"/>
<circle cx="1187.5" cy="1506.4" r="8.0" fill="#8b8bf5"/>
<circle cx="1187.5" cy="1527.0" r="8.0" fill="#8b8bf5"/>
<circle cx="1238.9" cy="1436.8" r="8.0" fill="#5b53f5"/>
<circle cx="1226.7" cy="1441.3" r="8.0" fill="#5b53f5"/>
<circle cx="1229.8" cy="1445.8" r="8.0" fill="#5b53f5"/>
<circle cx="1234.6" cy="1450.3" r="8.0" fill="#5b53f5"/>
<circle cx="1226.0" cy="1454.8" r="8.0" fill="#5b53f5"/>
<circle cx="1238.0" cy="1459.3" r="8.0" fill="#5b53f5"/>
<circle cx="1225.3" cy="1463.8" r="8.0" fill="#5b53f5"/>
<circle cx="1228.4" cy="1468.3" r="8.0" fill="#5b53f5"/>
<circle cx="1237.7" cy="1472.8" r="8.0" fill="#5b53f5"/>
<circle cx="1240.1" cy="1477.3" r="8.0" fill="#5b53f5"/>
<circle cx="1232.0" cy="1481.8" r="8.0" fill="#5b53f5"/>
<circle cx="1242.7" cy="1486.3" r="8.0" fill="#5b53f5"/>
<circle cx="1241.1" cy="1490.8" r="8.0" fill="#5b53f5"/>
<circle cx="1229.1" cy="1495.3" r="8.0" fill="#5b53f5"/>
<circle cx="1231.2" cy="1497.0" r="8.0" fill="#5b53f5"/>
<circle cx="1234.0" cy="1407.6" r="8.0" fill="#5b53f5"/>
<circle cx="1234.0" cy="1530.4" r="8.0" fill="#5b53f5"/>
<circle cx="1234.0" cy="1556.0" r="8.0" fill="#5b53f5"/>
<circle cx="1234.0" cy="1565.0" r="8.0" fill="#5b53f5"/>
<circle cx="1234.0" cy="1574.1" r="8.0" fill="#5b53f5"/>
<circle cx="1285.8" cy="1450.9" r="8.0" fill="#3fd321"/>
<circle cx="1287.1" cy="1455.4" r="8.0" fill="#3fd321"/>
<circle cx="1274.4" cy="1459.9" r="8.0" fill="#3fd321"/>
<circle cx="1276.5" cy="1464.4" r="8.0" fill="#3fd321"/>
<circle cx="1279.6" cy="1468.9" r="8.0" fill="#3fd321"/>
<circle cx="1273.9" cy="1473.4" r="8.0" fill="#3fd321"/>
<circle cx="1272.7" cy="1477.9" r="8.0" fill="#3fd321"/>
<circle cx="1284.4" cy="1482.4" r="8.0" fill="#3fd321"/>
<circle cx="1277.0" cy="1486.9" r="8.0" fill="#3fd321"/>
<circle cx="1284.3" cy="1491.4" r="8.0" fill="#3fd321"/>
<circle cx="1287.7" cy="1495.9" r="8.0" fill="#3fd321"/>
<circle cx="1279.0" cy="1500.4" r="8.0" fill="#3fd321"/>
<circle cx="1284.5" cy="1504.9" r="8.0" fill="#3fd321"/>
<circle cx="1276.0" cy="1505.5" r="8.0" fill="#3fd321"/>
<circle cx="1381.5" cy="1444.8" r="8.0" fill="#8e8e92"/>
<circle cx="1385.5" cy="1449.3" r="8.0" fill="#8e8e92"/>
<circle cx="1382.4" cy="1453.8" r="8.0" fill="#8e8e92"/>
<circle cx="1389.9" cy="1458.3" r="8.0" fill="#8e8e92"/>
<circle cx="1392.1" cy="1462.8" r="8.0" fill="#8e8e92"/>
<circle cx="1388.7" cy="1467.3" r="8.0" fill="#8e8e92"/>
<circle cx="1389.0" cy="1471.8" r="8.0" fill="#8e8e92"/>
<circle cx="1394.0" cy="1476.3" r="8.0" fill="#8e8e92"/>
<circle cx="1392.6" cy="1480.8" r="8.0" fill="#8e8e92"/>
<circle cx="1387.7" cy="1485.3" r="8.0" fill="#8e8e92"/>
<circle cx="1384.4" cy="1489.8" r="8.0" fill="#8e8e92"/>
<circle cx="1381.4" cy="1494.3" r="8.0" fill="#8e8e92"/>
<circle cx="1380.2" cy="1498.8" r="8.0" fill="#8e8e92"/>
<circle cx="1380.2" cy="1503.3" r="8.0" fill="#8e8e92"/>
<circle cx="1386.9" cy="1507.8" r="8.0" fill="#8e8e92"/>
<circle cx="1388.4" cy="1509.2" r="8.0" fill="#8e8e92"/>
<circle cx="1388.3" cy="1525.7" r="8.0" fill="#8e8e92"/>
<circle cx="1439.5" cy="1458.4" r="8.0" fill="#c8def6"/>
<circle cx="1441.7" cy="1462.9" r="8.0" fill="#c8def6"/>
<circle cx="1435.9" cy="1467.4" r="8.0" fill="#c8def6"/>
<circle cx="1431.0" cy="1471.9" r="8.0" fill="#c8def6"/>
<circle cx="1429.7" cy="1476.4" r="8.0" fill="#c8def6"/>
<circle cx="1430.1" cy="1480.9" r="8.0" fill="#c8def6"/>
<circle cx="1427.5" cy="1485.4" r="8.0" fill="#c8def6"/>
<circle cx="1439.6" cy="1489.9" r="8.0" fill="#c8def6"/>
<circle cx="1425.6" cy="1494.4" r="8.0" fill="#c8def6"/>
<circle cx="1441.6" cy="1498.9" r="8.0" fill="#c8def6"/>
<circle cx="1430.8" cy="1503.4" r="8.0" fill="#c8def6"/>
<circle cx="1434.3" cy="1507.9" r="8.0" fill="#c8def6"/>
<circle cx="1434.6" cy="1512.4" r="8.0" fill="#c8def6"/>
<circle cx="1435.6" cy="1516.9" r="8.0" fill="#c8def6"/>
<circle cx="1425.4" cy="1521.4" r="8.0" fill="#c8def6"/>
<circle cx="1437.2" cy="1521.9" r="8.0" fill="#c8def6"/>
<circle cx="1434.3" cy="1545.2" r="8.0" fill="#c8def6"/>
<circle cx="1474.5" cy="1443.1" r="8.0" fill="#b9b9f8"/>
<circle cx="1484.0" cy="1447.6" r="8.0" fill="#b9b9f8"/>
<circle cx="1483.0" cy="1452.1" r="8.0" fill="#b9b9f8"/>
<circle cx="1474.1" cy="1456.6" r="8.0" fill="#b9b9f8"/>
<circle cx="1481.0" cy="1461.1" r="8.0" fill="#b9b9f8"/>
<circle cx="1476.3" cy="1465.6" r="8.0" fill="#b9b9f8"/>
<circle cx="1472.6" cy="1470.1" r="8.0" fill="#b9b9f8"/>
<circle cx="1474.1" cy="1474.6" r="8.0" fill="#b9b9f8"/>
<circle cx="1483.6" cy="1479.1" r="8.0" fill="#b9b9f8"/>
<circle cx="1474.3" cy="1483.6" r="8.0" fill="#b9b9f8"/>
<circle cx="1473.9" cy="1488.1" r="8.0" fill="#b9b9f8"/>
<circle cx="1475.2" cy="1492.6" r="8.0" fill="#b9b9f8"/>
<circle cx="1479.2" cy="1497.1" r="8.0" fill="#b9b9f8"/>
<circle cx="1480.4" cy="1501.6" r="8.0" fill="#b9b9f8"/>
<circle cx="1483.6" cy="1506.1" r="8.0" fill="#b9b9f8"/>
<circle cx="1485.6" cy="1510.6" r="8.0" fill="#b9b9f8"/>
<circle cx="1474.1" cy="1515.1" r="8.0" fill="#b9b9f8"/>
<circle cx="1477.9" cy="1519.6" r="8.0" fill="#b9b9f8"/>
<circle cx="1486.0" cy="1524.1" r="8.0" fill="#b9b9f8"/>
<circle cx="1473.0" cy="1528.6" r="8.0" fill="#b9b9f8"/>
<circle cx="1476.7" cy="1532.1" r="8.0" fill="#b9b9f8"/>
<circle cx="1480.9" cy="1558.7" r="8.0" fill="#b9b9f8"/>
<circle cx="1480.9" cy="1573.9" r="8.0" fill="#b9b9f8"/>
<circle cx="1519.4" cy="1444.8" r="8.0" fill="#8b8bf5"/>
<circle cx="1531.6" cy="1449.3" r="8.0" fill="#8b8bf5"/>
<circle cx="1534.2" cy="1453.8" r="8.0" fill="#8b8bf5"/>
<circle cx="1521.8" cy="1458.3" r="8.0" fill="#8b8bf5"/>
<circle cx="1526.6" cy="1462.8" r="8.0" fill="#8b8bf5"/>
<circle cx="1535.3" cy="1467.3" r="8.0" fill="#8b8bf5"/>
<circle cx="1520.9" cy="1471.8" r="8.0" fill="#8b8bf5"/>
<circle cx="1534.0" cy="1476.3" r="8.0" fill="#8b8bf5"/>
<circle cx="1532.4" cy="1480.8" r="8.0" fill="#8b8bf5"/>
<circle cx="1535.9" cy="1485.3" r="8.0" fill="#8b8bf5"/>
<circle cx="1519.1" cy="1489.8" r="8.0" fill="#8b8bf5"/>
<circle cx="1534.9" cy="1494.3" r="8.0" fill="#8b8bf5"/>
<circle cx="1519.4" cy="1498.8" r="8.0" fill="#8b8bf5"/>
<circle cx="1531.6" cy="1503.3" r="8.0" fill="#8b8bf5"/>
<circle cx="1530.5" cy="1507.8" r="8.0" fill="#8b8bf5"/>
<circle cx="1525.3" cy="1512.3" r="8.0" fill="#8b8bf5"/>
<circle cx="1519.0" cy="1516.8" r="8.0" fill="#8b8bf5"/>
<circle cx="1530.2" cy="1520.2" r="8.0" fill="#8b8bf5"/>
<circle cx="1527.1" cy="1541.8" r="8.0" fill="#8b8bf5"/>
<circle cx="1527.1" cy="1558.7" r="8.0" fill="#8b8bf5"/>
<circle cx="1527.1" cy="1567.2" r="8.0" fill="#8b8bf5"/>
<circle cx="1565.3" cy="1444.8" r="8.0" fill="#5b53f5"/>
<circle cx="1568.2" cy="1449.3" r="8.0" fill="#5b53f5"/>
<circle cx="1577.3" cy="1453.8" r="8.0" fill="#5b53f5"/>
<circle cx="1567.1" cy="1458.3" r="8.0" fill="#5b53f5"/>
<circle cx="1580.0" cy="1462.8" r="8.0" fill="#5b53f5"/>
<circle cx="1569.3" cy="1467.3" r="8.0" fill="#5b53f5"/>
<circle cx="1564.7" cy="1471.8" r="8.0" fill="#5b53f5"/>
<circle cx="1572.4" cy="1476.3" r="8.0" fill="#5b53f5"/>
<circle cx="1567.5" cy="1480.8" r="8.0" fill="#5b53f5"/>
<circle cx="1564.8" cy="1485.3" r="8.0" fill="#5b53f5"/>
<circle cx="1569.5" cy="1489.8" r="8.0" fill="#5b53f5"/>
<circle cx="1572.8" cy="1494.3" r="8.0" fill="#5b53f5"/>
<circle cx="1570.7" cy="1494.8" r="8.0" fill="#5b53f5"/>
<circle cx="1573.5" cy="1540.9" r="8.0" fill="#5b53f5"/>
<circle cx="1573.5" cy="1558.7" r="8.0" fill="#5b53f5"/>
<circle cx="1573.5" cy="1573.9" r="8.0" fill="#5b53f5"/>
<circle cx="1617.6" cy="1456.7" r="8.0" fill="#3fd321"/>
<circle cx="1623.0" cy="1461.2" r="8.0" fill="#3fd321"/>
<circle cx="1623.8" cy="1465.7" r="8.0" fill="#3fd321"/>
<circle cx="1618.0" cy="1470.2" r="8.0" fill="#3fd321"/>
<circle cx="1613.7" cy="1474.7" r="8.0" fill="#3fd321"/>
<circle cx="1611.1" cy="1479.2" r="8.0" fill="#3fd321"/>
<circle cx="1615.9" cy="1483.7" r="8.0" fill="#3fd321"/>
<circle cx="1611.4" cy="1488.2" r="8.0" fill="#3fd321"/>
<circle cx="1613.1" cy="1492.7" r="8.0" fill="#3fd321"/>
<circle cx="1620.4" cy="1497.2" r="8.0" fill="#3fd321"/>
<circle cx="1619.4" cy="1501.7" r="8.0" fill="#3fd321"/>
<circle cx="1622.8" cy="1503.3" r="8.0" fill="#3fd321"/>
<circle cx="1619.7" cy="1540.1" r="8.0" fill="#3fd321"/>
<circle cx="1731.6" cy="1436.3" r="8.0" fill="#8e8e92"/>
<circle cx="1722.3" cy="1440.8" r="8.0" fill="#8e8e92"/>
<circle cx="1722.6" cy="1445.3" r="8.0" fill="#8e8e92"/>
<circle cx="1723.1" cy="1449.8" r="8.0" fill="#8e8e92"/>
<circle cx="1725.3" cy="1454.3" r="8.0" fill="#8e8e92"/>
<circle cx="1726.9" cy="1458.8" r="8.0" fill="#8e8e92"/>
<circle cx="1730.9" cy="1463.3" r="8.0" fill="#8e8e92"/>
<circle cx="1722.3" cy="1467.8" r="8.0" fill="#8e8e92"/>
<circle cx="1734.2" cy="1472.3" r="8.0" fill="#8e8e92"/>
<circle cx="1725.2" cy="1476.8" r="8.0" fill="#8e8e92"/>
<circle cx="1725.0" cy="1481.3" r="8.0" fill="#8e8e92"/>
<circle cx="1721.6" cy="1485.8" r="8.0" fill="#8e8e92"/>
<circle cx="1728.6" cy="1490.3" r="8.0" fill="#8e8e92"/>
<circle cx="1730.1" cy="1494.8" r="8.0" fill="#8e8e92"/>
<circle cx="1721.8" cy="1499.3" r="8.0" fill="#8e8e92"/>
<circle cx="1730.8" cy="1503.8" r="8.0" fill="#8e8e92"/>
<circle cx="1727.6" cy="1508.3" r="8.0" fill="#8e8e92"/>
<circle cx="1725.3" cy="1511.8" r="8.0" fill="#8e8e92"/>
<circle cx="1777.3" cy="1422.8" r="8.0" fill="#c8def6"/>
<circle cx="1770.0" cy="1427.3" r="8.0" fill="#c8def6"/>
<circle cx="1781.5" cy="1431.8" r="8.0" fill="#c8def6"/>
<circle cx="1780.5" cy="1436.3" r="8.0" fill="#c8def6"/>
<circle cx="1774.3" cy="1440.8" r="8.0" fill="#c8def6"/>
<circle cx="1776.5" cy="1445.3" r="8.0" fill="#c8def6"/>
<circle cx="1778.4" cy="1449.8" r="8.0" fill="#c8def6"/>
<circle cx="1773.4" cy="1454.3" r="8.0" fill="#c8def6"/>
<circle cx="1780.9" cy="1458.8" r="8.0" fill="#c8def6"/>
<circle cx="1780.3" cy="1463.3" r="8.0" fill="#c8def6"/>
<circle cx="1780.3" cy="1467.8" r="8.0" fill="#c8def6"/>
<circle cx="1775.8" cy="1472.3" r="8.0" fill="#c8def6"/>
<circle cx="1778.3" cy="1476.8" r="8.0" fill="#c8def6"/>
<circle cx="1782.3" cy="1481.3" r="8.0" fill="#c8def6"/>
<circle cx="1764.6" cy="1485.8" r="8.0" fill="#c8def6"/>
<circle cx="1777.0" cy="1490.3" r="8.0" fill="#c8def6"/>
<circle cx="1779.5" cy="1494.8" r="8.0" fill="#c8def6"/>
<circle cx="1765.0" cy="1499.3" r="8.0" fill="#c8def6"/>
<circle cx="1778.5" cy="1503.8" r="8.0" fill="#c8def6"/>
<circle cx="1770.2" cy="1508.3" r="8.0" fill="#c8def6"/>
<circle cx="1781.1" cy="1512.8" r="8.0" fill="#c8def6"/>
<circle cx="1766.9" cy="1517.3" r="8.0" fill="#c8def6"/>
<circle cx="1773.2" cy="1521.8" r="8.0" fill="#c8def6"/>
<circle cx="1774.8" cy="1526.3" r="8.0" fill="#c8def6"/>
<circle cx="1774.9" cy="1530.8" r="8.0" fill="#c8def6"/>
<circle cx="1769.8" cy="1535.3" r="8.0" fill="#c8def6"/>
<circle cx="1765.3" cy="1539.8" r="8.0" fill="#c8def6"/>
<circle cx="1777.8" cy="1541.4" r="8.0" fill="#c8def6"/>
<circle cx="1826.5" cy="1470.2" r="8.0" fill="#b9b9f8"/>
<circle cx="1812.0" cy="1474.7" r="8.0" fill="#b9b9f8"/>
<circle cx="1828.1" cy="1479.2" r="8.0" fill="#b9b9f8"/>
<circle cx="1816.6" cy="1483.7" r="8.0" fill="#b9b9f8"/>
<circle cx="1822.0" cy="1488.2" r="8.0" fill="#b9b9f8"/>
<circle cx="1820.4" cy="1492.7" r="8.0" fill="#b9b9f8"/>
<circle cx="1822.5" cy="1497.2" r="8.0" fill="#b9b9f8"/>
<circle cx="1816.7" cy="1501.7" r="8.0" fill="#b9b9f8"/>
<circle cx="1817.6" cy="1506.2" r="8.0" fill="#b9b9f8"/>
<circle cx="1815.4" cy="1510.7" r="8.0" fill="#b9b9f8"/>
<circle cx="1824.7" cy="1515.2" r="8.0" fill="#b9b9f8"/>
<circle cx="1819.6" cy="1517.7" r="8.0" fill="#b9b9f8"/>
<circle cx="1819.9" cy="1570.5" r="8.0" fill="#b9b9f8"/>
<circle cx="1864.2" cy="1469.4" r="8.0" fill="#8b8bf5"/>
<circle cx="1874.0" cy="1473.9" r="8.0" fill="#8b8bf5"/>
<circle cx="1867.3" cy="1478.4" r="8.0" fill="#8b8bf5"/>
<circle cx="1858.4" cy="1482.9" r="8.0" fill="#8b8bf5"/>
<circle cx="1857.9" cy="1487.4" r="8.0" fill="#8b8bf5"/>
<circle cx="1861.5" cy="1491.9" r="8.0" fill="#8b8bf5"/>
<circle cx="1860.2" cy="1496.4" r="8.0" fill="#8b8bf5"/>
<circle cx="1863.9" cy="1500.9" r="8.0" fill="#8b8bf5"/>
<circle cx="1864.6" cy="1505.4" r="8.0" fill="#8b8bf5"/>
<circle cx="1874.3" cy="1509.9" r="8.0" fill="#8b8bf5"/>
<circle cx="1865.5" cy="1514.4" r="8.0" fill="#8b8bf5"/>
<circle cx="1867.0" cy="1518.9" r="8.0" fill="#8b8bf5"/>
<circle cx="1862.8" cy="1523.4" r="8.0" fill="#8b8bf5"/>
<circle cx="1873.3" cy="1527.9" r="8.0" fill="#8b8bf5"/>
<circle cx="1869.0" cy="1532.1" r="8.0" fill="#8b8bf5"/>
<circle cx="1865.2" cy="1559.9" r="8.0" fill="#8b8bf5"/>
<circle cx="1864.1" cy="1564.4" r="8.0" fill="#8b8bf5"/>
<circle cx="1867.6" cy="1568.9" r="8.0" fill="#8b8bf5"/>
<circle cx="1865.8" cy="1571.0" r="8.0" fill="#8b8bf5"/>
<circle cx="1907.3" cy="1466.8" r="8.0" fill="#5b53f5"/>
<circle cx="1920.4" cy="1471.3" r="8.0" fill="#5b53f5"/>
<circle cx="1913.7" cy="1475.8" r="8.0" fill="#5b53f5"/>
<circle cx="1912.2" cy="1480.3" r="8.0" fill="#5b53f5"/>
<circle cx="1916.0" cy="1484.8" r="8.0" fill="#5b53f5"/>
<circle cx="1914.4" cy="1489.3" r="8.0" fill="#5b53f5"/>
<circle cx="1908.6" cy="1493.8" r="8.0" fill="#5b53f5"/>
<circle cx="1911.0" cy="1498.3" r="8.0" fill="#5b53f5"/>
<circle cx="1910.4" cy="1499.9" r="8.0" fill="#5b53f5"/>
<circle cx="1911.3" cy="1565.0" r="8.0" fill="#5b53f5"/>
<circle cx="1921.4" cy="1569.5" r="8.0" fill="#5b53f5"/>
<circle cx="1906.7" cy="1574.0" r="8.0" fill="#5b53f5"/>
<circle cx="1904.2" cy="1578.5" r="8.0" fill="#5b53f5"/>
<circle cx="1918.4" cy="1583.0" r="8.0" fill="#5b53f5"/>
<circle cx="1914.2" cy="1587.5" r="8.0" fill="#5b53f5"/>
<circle cx="1917.8" cy="1592.0" r="8.0" fill="#5b53f5"/>
<circle cx="1917.3" cy="1596.5" r="8.0" fill="#5b53f5"/>
<circle cx="1908.2" cy="1601.0" r="8.0" fill="#5b53f5"/>
<circle cx="1912.2" cy="1603.2" r="8.0" fill="#5b53f5"/>
<circle cx="1912.5" cy="1410.6" r="8.0" fill="#5b53f5"/>
<circle cx="1912.5" cy="1435.1" r="8.0" fill="#5b53f5"/>
<circle cx="1912.5" cy="1529.9" r="8.0" fill="#5b53f5"/>
<circle cx="1964.9" cy="1444.8" r="8.0" fill="#3fd321"/>
<circle cx="1956.1" cy="1449.3" r="8.0" fill="#3fd321"/>
<circle cx="1951.1" cy="1453.8" r="8.0" fill="#3fd321"/>
<circle cx="1960.4" cy="1458.3" r="8.0" fill="#3fd321"/>
<circle cx="1955.1" cy="1462.8" r="8.0" fill="#3fd321"/>
<circle cx="1960.1" cy="1467.3" r="8.0" fill="#3fd321"/>
<circle cx="1961.3" cy="1471.8" r="8.0" fill="#3fd321"/>
<circle cx="1952.2" cy="1476.3" r="8.0" fill="#3fd321"/>
<circle cx="1964.9" cy="1480.8" r="8.0" fill="#3fd321"/>
<circle cx="1958.4" cy="1485.3" r="8.0" fill="#3fd321"/>
<circle cx="1955.0" cy="1489.8" r="8.0" fill="#3fd321"/>
<circle cx="1961.5" cy="1494.3" r="8.0" fill="#3fd321"/>
<circle cx="1965.5" cy="1498.8" r="8.0" fill="#3fd321"/>
<circle cx="1959.1" cy="1503.3" r="8.0" fill="#3fd321"/>
<circle cx="1954.3" cy="1507.8" r="8.0" fill="#3fd321"/>
<circle cx="1961.5" cy="1512.3" r="8.0" fill="#3fd321"/>
<circle cx="1957.5" cy="1516.8" r="8.0" fill="#3fd321"/>
<circle cx="1966.1" cy="1521.3" r="8.0" fill="#3fd321"/>
<circle cx="1955.9" cy="1525.3" r="8.0" fill="#3fd321"/>
<line x1="1030.0" y1="1468.5" x2="1990.0" y2="1468.5" stroke="#000" stroke-width="5.0" stroke-linecap="round" stroke-dasharray="0 11.6"/>
<line x1="1048.7" y1="1454.8" x2="1048.7" y2="1483.8" stroke="#000" stroke-width="3.6"/>
<line x1="1039.7" y1="1454.8" x2="1057.7" y2="1454.8" stroke="#000" stroke-width="3.6"/>
<line x1="1039.7" y1="1483.8" x2="1057.7" y2="1483.8" stroke="#000" stroke-width="3.6"/>
<line x1="1031.3" y1="1468.3" x2="1066.1" y2="1468.3" stroke="#000" stroke-width="3.6"/>
<line x1="1095.2" y1="1448.0" x2="1095.2" y2="1497.1" stroke="#000" stroke-width="3.6"/>
<line x1="1086.2" y1="1448.0" x2="1104.2" y2="1448.0" stroke="#000" stroke-width="3.6"/>
<line x1="1086.2" y1="1497.1" x2="1104.2" y2="1497.1" stroke="#000" stroke-width="3.6"/>
<line x1="1077.8" y1="1468.3" x2="1112.6" y2="1468.3" stroke="#000" stroke-width="3.6"/>
<line x1="1141.8" y1="1454.2" x2="1141.8" y2="1486.6" stroke="#000" stroke-width="3.6"/>
<line x1="1132.8" y1="1454.2" x2="1150.8" y2="1454.2" stroke="#000" stroke-width="3.6"/>
<line x1="1132.8" y1="1486.6" x2="1150.8" y2="1486.6" stroke="#000" stroke-width="3.6"/>
<line x1="1124.4" y1="1468.3" x2="1159.2" y2="1468.3" stroke="#000" stroke-width="3.6"/>
<line x1="1187.5" y1="1451.4" x2="1187.5" y2="1492.3" stroke="#000" stroke-width="3.6"/>
<line x1="1178.5" y1="1451.4" x2="1196.5" y2="1451.4" stroke="#000" stroke-width="3.6"/>
<line x1="1178.5" y1="1492.3" x2="1196.5" y2="1492.3" stroke="#000" stroke-width="3.6"/>
<line x1="1170.1" y1="1468.3" x2="1204.9" y2="1468.3" stroke="#000" stroke-width="3.6"/>
<line x1="1234.0" y1="1440.1" x2="1234.0" y2="1515.7" stroke="#000" stroke-width="3.6"/>
<line x1="1225.0" y1="1440.1" x2="1243.0" y2="1440.1" stroke="#000" stroke-width="3.6"/>
<line x1="1225.0" y1="1515.7" x2="1243.0" y2="1515.7" stroke="#000" stroke-width="3.6"/>
<line x1="1216.6" y1="1468.3" x2="1251.4" y2="1468.3" stroke="#000" stroke-width="3.6"/>
<line x1="1280.0" y1="1454.2" x2="1280.0" y2="1485.2" stroke="#000" stroke-width="3.6"/>
<line x1="1271.0" y1="1454.2" x2="1289.0" y2="1454.2" stroke="#000" stroke-width="3.6"/>
<line x1="1271.0" y1="1485.2" x2="1289.0" y2="1485.2" stroke="#000" stroke-width="3.6"/>
<line x1="1262.6" y1="1468.3" x2="1297.4" y2="1468.3" stroke="#000" stroke-width="3.6"/>
<line x1="1388.3" y1="1458.8" x2="1388.3" y2="1502.5" stroke="#000" stroke-width="3.6"/>
<line x1="1379.3" y1="1458.8" x2="1397.3" y2="1458.8" stroke="#000" stroke-width="3.6"/>
<line x1="1379.3" y1="1502.5" x2="1397.3" y2="1502.5" stroke="#000" stroke-width="3.6"/>
<line x1="1370.9" y1="1476.6" x2="1405.7" y2="1476.6" stroke="#000" stroke-width="3.6"/>
<line x1="1434.3" y1="1472.0" x2="1434.3" y2="1511.0" stroke="#000" stroke-width="3.6"/>
<line x1="1425.3" y1="1472.0" x2="1443.3" y2="1472.0" stroke="#000" stroke-width="3.6"/>
<line x1="1425.3" y1="1511.0" x2="1443.3" y2="1511.0" stroke="#000" stroke-width="3.6"/>
<line x1="1416.9" y1="1488.4" x2="1451.7" y2="1488.4" stroke="#000" stroke-width="3.6"/>
<line x1="1480.9" y1="1460.8" x2="1480.9" y2="1532.5" stroke="#000" stroke-width="3.6"/>
<line x1="1471.9" y1="1460.8" x2="1489.9" y2="1460.8" stroke="#000" stroke-width="3.6"/>
<line x1="1471.9" y1="1532.5" x2="1489.9" y2="1532.5" stroke="#000" stroke-width="3.6"/>
<line x1="1463.5" y1="1487.9" x2="1498.3" y2="1487.9" stroke="#000" stroke-width="3.6"/>
<line x1="1527.1" y1="1463.0" x2="1527.1" y2="1529.1" stroke="#000" stroke-width="3.6"/>
<line x1="1518.1" y1="1463.0" x2="1536.1" y2="1463.0" stroke="#000" stroke-width="3.6"/>
<line x1="1518.1" y1="1529.1" x2="1536.1" y2="1529.1" stroke="#000" stroke-width="3.6"/>
<line x1="1509.7" y1="1488.4" x2="1544.5" y2="1488.4" stroke="#000" stroke-width="3.6"/>
<line x1="1573.5" y1="1458.8" x2="1573.5" y2="1532.5" stroke="#000" stroke-width="3.6"/>
<line x1="1564.5" y1="1458.8" x2="1582.5" y2="1458.8" stroke="#000" stroke-width="3.6"/>
<line x1="1564.5" y1="1532.5" x2="1582.5" y2="1532.5" stroke="#000" stroke-width="3.6"/>
<line x1="1556.1" y1="1485.6" x2="1590.9" y2="1485.6" stroke="#000" stroke-width="3.6"/>
<line x1="1619.7" y1="1463.9" x2="1619.7" y2="1497.8" stroke="#000" stroke-width="3.6"/>
<line x1="1610.7" y1="1463.9" x2="1628.7" y2="1463.9" stroke="#000" stroke-width="3.6"/>
<line x1="1610.7" y1="1497.8" x2="1628.7" y2="1497.8" stroke="#000" stroke-width="3.6"/>
<line x1="1602.3" y1="1478.8" x2="1637.1" y2="1478.8" stroke="#000" stroke-width="3.6"/>
<line x1="1727.1" y1="1452.9" x2="1727.1" y2="1494.4" stroke="#000" stroke-width="3.6"/>
<line x1="1718.1" y1="1452.9" x2="1736.1" y2="1452.9" stroke="#000" stroke-width="3.6"/>
<line x1="1718.1" y1="1494.4" x2="1736.1" y2="1494.4" stroke="#000" stroke-width="3.6"/>
<line x1="1709.7" y1="1470.3" x2="1744.5" y2="1470.3" stroke="#000" stroke-width="3.6"/>
<line x1="1773.6" y1="1449.0" x2="1773.6" y2="1532.5" stroke="#000" stroke-width="3.6"/>
<line x1="1764.6" y1="1449.0" x2="1782.6" y2="1449.0" stroke="#000" stroke-width="3.6"/>
<line x1="1764.6" y1="1532.5" x2="1782.6" y2="1532.5" stroke="#000" stroke-width="3.6"/>
<line x1="1756.2" y1="1478.3" x2="1791.0" y2="1478.3" stroke="#000" stroke-width="3.6"/>
<line x1="1819.9" y1="1474.9" x2="1819.9" y2="1545.2" stroke="#000" stroke-width="3.6"/>
<line x1="1810.9" y1="1474.9" x2="1828.9" y2="1474.9" stroke="#000" stroke-width="3.6"/>
<line x1="1810.9" y1="1545.2" x2="1828.9" y2="1545.2" stroke="#000" stroke-width="3.6"/>
<line x1="1802.5" y1="1501.1" x2="1837.3" y2="1501.1" stroke="#000" stroke-width="3.6"/>
<line x1="1866.2" y1="1484.6" x2="1866.2" y2="1563.8" stroke="#000" stroke-width="3.6"/>
<line x1="1857.2" y1="1484.6" x2="1875.2" y2="1484.6" stroke="#000" stroke-width="3.6"/>
<line x1="1857.2" y1="1563.8" x2="1875.2" y2="1563.8" stroke="#000" stroke-width="3.6"/>
<line x1="1848.8" y1="1515.0" x2="1883.6" y2="1515.0" stroke="#000" stroke-width="3.6"/>
<line x1="1912.5" y1="1456.3" x2="1912.5" y2="1590.9" stroke="#000" stroke-width="3.6"/>
<line x1="1903.5" y1="1456.3" x2="1921.5" y2="1456.3" stroke="#000" stroke-width="3.6"/>
<line x1="1903.5" y1="1590.9" x2="1921.5" y2="1590.9" stroke="#000" stroke-width="3.6"/>
<line x1="1895.1" y1="1500.8" x2="1929.9" y2="1500.8" stroke="#000" stroke-width="3.6"/>
<line x1="1958.7" y1="1463.0" x2="1958.7" y2="1507.6" stroke="#000" stroke-width="3.6"/>
<line x1="1949.7" y1="1463.0" x2="1967.7" y2="1463.0" stroke="#000" stroke-width="3.6"/>
<line x1="1949.7" y1="1507.6" x2="1967.7" y2="1507.6" stroke="#000" stroke-width="3.6"/>
<line x1="1941.3" y1="1481.7" x2="1976.1" y2="1481.7" stroke="#000" stroke-width="3.6"/>
<line x1="1383.2" y1="1406.0" x2="1621.4" y2="1406.0" stroke="#000" stroke-width="3.6"/>
<text x="1502.0" y="1386.9" font-size="34" text-anchor="middle" textLength="34.3" lengthAdjust="spacingAndGlyphs">ns</text>
<line x1="1711.5" y1="1401.8" x2="1783.3" y2="1401.8" stroke="#000" stroke-width="3.6"/>
<text x="1747.4" y="1383.0" font-size="34" text-anchor="middle" textLength="34.3" lengthAdjust="spacingAndGlyphs">ns</text>
<line x1="1801.6" y1="1446.1" x2="1833.7" y2="1446.1" stroke="#000" stroke-width="3.6"/>
<text x="1808.0" y="1437.9" font-size="36.5" font-family="DejaVu Sans, sans-serif" font-weight="bold" letter-spacing="3.71" fill="#000" stroke="#000" stroke-width="0.7" style="font-family:'DejaVu Sans',sans-serif">*</text>
<line x1="1848.1" y1="1442.2" x2="1880.6" y2="1442.2" stroke="#000" stroke-width="3.6"/>
<text x="1843.3" y="1434.4" font-size="36.5" font-family="DejaVu Sans, sans-serif" font-weight="bold" letter-spacing="3.71" fill="#000" stroke="#000" stroke-width="0.7" style="font-family:'DejaVu Sans',sans-serif">**</text>
<line x1="1895.5" y1="1386.0" x2="1927.2" y2="1386.0" stroke="#000" stroke-width="3.6"/>
<text x="1902.3" y="1377.9" font-size="36.5" font-family="DejaVu Sans, sans-serif" font-weight="bold" letter-spacing="3.71" fill="#000" stroke="#000" stroke-width="0.7" style="font-family:'DejaVu Sans',sans-serif">*</text>
<line x1="1945.5" y1="1425.8" x2="1973.9" y2="1425.8" stroke="#000" stroke-width="3.6"/>
<text x="1959.5" y="1406.3" font-size="34" text-anchor="middle" textLength="34.3" lengthAdjust="spacingAndGlyphs">ns</text>
<text x="3.8" y="1894.8" font-size="84" font-weight="bold">F</text>
<text x="0" y="0" font-size="31.3" font-weight="bold" text-anchor="middle" textLength="293.8" lengthAdjust="spacingAndGlyphs" transform="translate(112.4,2035.5) rotate(-90)">fold increase to d17</text>
<text x="0" y="0" font-size="31.3" text-anchor="middle" textLength="246.0" lengthAdjust="spacingAndGlyphs" transform="translate(148.5,2035.0) rotate(-90)">[before treatment]</text>
<text x="596.3" y="2325.6" font-size="36.8" text-anchor="middle" textLength="371.8" lengthAdjust="spacingAndGlyphs">day of chip experiment</text>
<line x1="933.9" y1="2311.6" x2="977.9" y2="2311.6" stroke="#a3a3a5" stroke-width="5.6"/>
<text x="1002.7" y="2322.6" font-size="33.2" textLength="135.4" lengthAdjust="spacingAndGlyphs">untreated</text>
<line x1="1182.6" y1="2311.6" x2="1226.2" y2="2311.6" stroke="#5fa8f8" stroke-width="5.6"/>
<text x="1251.7" y="2322.6" font-size="33.2" textLength="182.6" lengthAdjust="spacingAndGlyphs">TfR-FcSilent</text>
<line x1="1475.2" y1="2311.6" x2="1517.7" y2="2311.6" stroke="#ef353d" stroke-width="5.6"/>
<text x="1543.8" y="2322.6" font-size="33.2" textLength="152.8" lengthAdjust="spacingAndGlyphs">TfR-FcWT</text>
<circle cx="255.0" cy="2147.0" r="6.8" fill="#5fa8f8" fill-opacity="0.6"/>
<circle cx="255.0" cy="2152.9" r="6.8" fill="#ef353d" fill-opacity="0.6"/>
<rect x="248.5" y="2154.4" width="13.0" height="13.0" fill="#7b7b7d" fill-opacity="0.6"/>
<rect x="248.5" y="2162.3" width="13.0" height="13.0" fill="#ef353d" fill-opacity="0.6"/>
<circle cx="255.0" cy="2174.8" r="6.8" fill="#7b7b7d" fill-opacity="0.6"/>
<circle cx="255.0" cy="2156.9" r="6.8" fill="#7b7b7d" fill-opacity="0.6"/>
<circle cx="312.4" cy="2023.9" r="6.8" fill="#5fa8f8" fill-opacity="0.6"/>
<circle cx="312.4" cy="2027.9" r="6.8" fill="#ef353d" fill-opacity="0.6"/>
<rect x="305.9" y="2063.1" width="13.0" height="13.0" fill="#ef353d" fill-opacity="0.6"/>
<circle cx="312.4" cy="2081.5" r="6.8" fill="#a3a3a5" fill-opacity="0.6"/>
<polygon points="312.4,2117.7 319.9,2131.2 304.9,2131.2" fill="#ef353d" fill-opacity="0.6"/>
<rect x="305.9" y="2140.5" width="13.0" height="13.0" fill="#5fa8f8" fill-opacity="0.6"/>
<circle cx="312.4" cy="2154.9" r="6.8" fill="#a3a3a5" fill-opacity="0.6"/>
<rect x="305.9" y="2144.5" width="13.0" height="13.0" fill="#7b7b7d" fill-opacity="0.6"/>
<polygon points="312.4,2159.3 319.9,2172.8 304.9,2172.8" fill="#a3a3a5" fill-opacity="0.6"/>
<circle cx="369.9" cy="1982.3" r="6.8" fill="#5fa8f8" fill-opacity="0.6"/>
<circle cx="369.9" cy="1990.2" r="6.8" fill="#ef353d" fill-opacity="0.6"/>
<circle cx="369.9" cy="2022.0" r="6.8" fill="#a3a3a5" fill-opacity="0.6"/>
<rect x="363.4" y="2051.2" width="13.0" height="13.0" fill="#ef353d" fill-opacity="0.6"/>
<polygon points="369.9,2101.8 377.4,2115.3 362.4,2115.3" fill="#ef353d" fill-opacity="0.6"/>
<rect x="363.4" y="2128.6" width="13.0" height="13.0" fill="#5fa8f8" fill-opacity="0.6"/>
<rect x="363.4" y="2134.5" width="13.0" height="13.0" fill="#7b7b7d" fill-opacity="0.6"/>
<circle cx="369.9" cy="2149.0" r="6.8" fill="#ef353d" fill-opacity="0.6"/>
<circle cx="369.9" cy="2156.9" r="6.8" fill="#a3a3a5" fill-opacity="0.6"/>
<circle cx="456.0" cy="2025.9" r="6.8" fill="#5fa8f8" fill-opacity="0.6"/>
<circle cx="456.0" cy="2031.9" r="6.8" fill="#ef353d" fill-opacity="0.6"/>
<circle cx="456.0" cy="2053.7" r="6.8" fill="#a3a3a5" fill-opacity="0.6"/>
<rect x="449.5" y="2126.6" width="13.0" height="13.0" fill="#ef353d" fill-opacity="0.6"/>
<polygon points="456.0,2131.6 463.5,2145.1 448.5,2145.1" fill="#ef353d" fill-opacity="0.6"/>
<circle cx="456.0" cy="2149.0" r="6.8" fill="#5fa8f8" fill-opacity="0.6"/>
<circle cx="456.0" cy="2154.9" r="6.8" fill="#a3a3a5" fill-opacity="0.6"/>
<rect x="449.5" y="2154.4" width="13.0" height="13.0" fill="#a3a3a5" fill-opacity="0.6"/>
<circle cx="657.1" cy="1950.5" r="6.8" fill="#5fa8f8" fill-opacity="0.6"/>
<circle cx="657.1" cy="1948.5" r="6.8" fill="#ef353d" fill-opacity="0.6"/>
<polygon points="657.1,2014.5 664.6,2028.0 649.6,2028.0" fill="#ef353d" fill-opacity="0.6"/>
<rect x="650.6" y="2073.0" width="13.0" height="13.0" fill="#ef353d" fill-opacity="0.6"/>
<rect x="650.6" y="2102.8" width="13.0" height="13.0" fill="#5fa8f8" fill-opacity="0.6"/>
<rect x="650.6" y="2118.7" width="13.0" height="13.0" fill="#a3a3a5" fill-opacity="0.6"/>
<polygon points="657.1,2125.6 664.6,2139.1 649.6,2139.1" fill="#a3a3a5" fill-opacity="0.6"/>
<circle cx="657.1" cy="2141.0" r="6.8" fill="#7b7b7d" fill-opacity="0.6"/>
<circle cx="657.1" cy="2137.1" r="6.8" fill="#ef353d" fill-opacity="0.6"/>
<line x1="255.0" y1="2172.8" x2="255.0" y2="2149.0" stroke="#ef353d" stroke-width="4.2"/>
<line x1="244.5" y1="2149.0" x2="265.5" y2="2149.0" stroke="#ef353d" stroke-width="4.2"/>
<line x1="244.5" y1="2172.8" x2="265.5" y2="2172.8" stroke="#ef353d" stroke-width="4.2"/>
<line x1="255.0" y1="2174.8" x2="255.0" y2="2152.9" stroke="#5fa8f8" stroke-width="4.2"/>
<line x1="244.5" y1="2152.9" x2="265.5" y2="2152.9" stroke="#5fa8f8" stroke-width="4.2"/>
<line x1="244.5" y1="2174.8" x2="265.5" y2="2174.8" stroke="#5fa8f8" stroke-width="4.2"/>
<line x1="255.0" y1="2174.8" x2="255.0" y2="2154.9" stroke="#7b7b7d" stroke-width="4.2"/>
<line x1="244.5" y1="2154.9" x2="265.5" y2="2154.9" stroke="#7b7b7d" stroke-width="4.2"/>
<line x1="244.5" y1="2174.8" x2="265.5" y2="2174.8" stroke="#7b7b7d" stroke-width="4.2"/>
<line x1="312.4" y1="2158.9" x2="312.4" y2="2050.7" stroke="#ef353d" stroke-width="4.2"/>
<line x1="301.9" y1="2050.7" x2="322.9" y2="2050.7" stroke="#ef353d" stroke-width="4.2"/>
<line x1="301.9" y1="2158.9" x2="322.9" y2="2158.9" stroke="#ef353d" stroke-width="4.2"/>
<line x1="312.4" y1="2183.7" x2="312.4" y2="2067.6" stroke="#5fa8f8" stroke-width="4.2"/>
<line x1="301.9" y1="2067.6" x2="322.9" y2="2067.6" stroke="#5fa8f8" stroke-width="4.2"/>
<line x1="301.9" y1="2183.7" x2="322.9" y2="2183.7" stroke="#5fa8f8" stroke-width="4.2"/>
<line x1="312.4" y1="2178.7" x2="312.4" y2="2107.3" stroke="#7b7b7d" stroke-width="4.2"/>
<line x1="301.9" y1="2107.3" x2="322.9" y2="2107.3" stroke="#7b7b7d" stroke-width="4.2"/>
<line x1="301.9" y1="2178.7" x2="322.9" y2="2178.7" stroke="#7b7b7d" stroke-width="4.2"/>
<line x1="369.9" y1="2158.9" x2="369.9" y2="2023.9" stroke="#ef353d" stroke-width="4.2"/>
<line x1="359.4" y1="2023.9" x2="380.4" y2="2023.9" stroke="#ef353d" stroke-width="4.2"/>
<line x1="359.4" y1="2158.9" x2="380.4" y2="2158.9" stroke="#ef353d" stroke-width="4.2"/>
<line x1="369.9" y1="2182.7" x2="369.9" y2="2037.8" stroke="#5fa8f8" stroke-width="4.2"/>
<line x1="359.4" y1="2037.8" x2="380.4" y2="2037.8" stroke="#5fa8f8" stroke-width="4.2"/>
<line x1="359.4" y1="2182.7" x2="380.4" y2="2182.7" stroke="#5fa8f8" stroke-width="4.2"/>
<line x1="369.9" y1="2184.7" x2="369.9" y2="2067.6" stroke="#7b7b7d" stroke-width="4.2"/>
<line x1="359.4" y1="2067.6" x2="380.4" y2="2067.6" stroke="#7b7b7d" stroke-width="4.2"/>
<line x1="359.4" y1="2184.7" x2="380.4" y2="2184.7" stroke="#7b7b7d" stroke-width="4.2"/>
<line x1="456.0" y1="2166.8" x2="456.0" y2="2119.2" stroke="#ef353d" stroke-width="4.2"/>
<line x1="445.5" y1="2119.2" x2="466.5" y2="2119.2" stroke="#ef353d" stroke-width="4.2"/>
<line x1="445.5" y1="2166.8" x2="466.5" y2="2166.8" stroke="#ef353d" stroke-width="4.2"/>
<line x1="456.0" y1="2182.7" x2="456.0" y2="2071.6" stroke="#5fa8f8" stroke-width="4.2"/>
<line x1="445.5" y1="2071.6" x2="466.5" y2="2071.6" stroke="#5fa8f8" stroke-width="4.2"/>
<line x1="445.5" y1="2182.7" x2="466.5" y2="2182.7" stroke="#5fa8f8" stroke-width="4.2"/>
<line x1="456.0" y1="2180.7" x2="456.0" y2="2090.2" stroke="#7b7b7d" stroke-width="4.2"/>
<line x1="445.5" y1="2090.2" x2="466.5" y2="2090.2" stroke="#7b7b7d" stroke-width="4.2"/>
<line x1="445.5" y1="2180.7" x2="466.5" y2="2180.7" stroke="#7b7b7d" stroke-width="4.2"/>
<line x1="657.1" y1="2145.0" x2="657.1" y2="1986.2" stroke="#ef353d" stroke-width="4.2"/>
<line x1="646.6" y1="1986.2" x2="667.6" y2="1986.2" stroke="#ef353d" stroke-width="4.2"/>
<line x1="646.6" y1="2145.0" x2="667.6" y2="2145.0" stroke="#ef353d" stroke-width="4.2"/>
<line x1="657.1" y1="2172.8" x2="657.1" y2="2014.0" stroke="#5fa8f8" stroke-width="4.2"/>
<line x1="646.6" y1="2014.0" x2="667.6" y2="2014.0" stroke="#5fa8f8" stroke-width="4.2"/>
<line x1="646.6" y1="2172.8" x2="667.6" y2="2172.8" stroke="#5fa8f8" stroke-width="4.2"/>
<line x1="657.1" y1="2182.7" x2="657.1" y2="2016.0" stroke="#7b7b7d" stroke-width="4.2"/>
<line x1="646.6" y1="2016.0" x2="667.6" y2="2016.0" stroke="#7b7b7d" stroke-width="4.2"/>
<line x1="646.6" y1="2182.7" x2="667.6" y2="2182.7" stroke="#7b7b7d" stroke-width="4.2"/>
<line x1="235.8" y1="2164.9" x2="663.6" y2="2164.9" stroke="#000" stroke-width="4.6" stroke-linecap="round" stroke-dasharray="0 11.5"/>
<polyline points="255.0,2165.1 312.4,2143.8 369.9,2125.6 456.0,2134.9 657.1,2099.6" fill="none" stroke="#7b7b7d" stroke-width="5.2" stroke-linejoin="round" stroke-dasharray="13 8"/>
<polyline points="255.0,2162.3 312.4,2126.9 369.9,2110.9 456.0,2126.9 657.1,2094.4" fill="none" stroke="#5fa8f8" stroke-width="5.2" stroke-linejoin="round"/>
<polyline points="255.0,2159.3 312.4,2105.7 369.9,2091.6 456.0,2119.2 657.1,2066.2" fill="none" stroke="#ef353d" stroke-width="5.2" stroke-linejoin="round"/>
<line x1="225.8" y1="1885.3" x2="225.8" y2="2186.4" stroke="#000" stroke-width="3.8"/>
<line x1="224.0" y1="2184.7" x2="673.6" y2="2184.7" stroke="#000" stroke-width="3.8"/>
<line x1="210.7" y1="2184.7" x2="225.8" y2="2184.7" stroke="#000" stroke-width="3.6"/>
<text x="205.6" y="2194.5" font-size="27.5" font-weight="bold" text-anchor="end">0</text>
<line x1="210.7" y1="2085.5" x2="225.8" y2="2085.5" stroke="#000" stroke-width="3.6"/>
<text x="205.6" y="2095.3" font-size="27.5" font-weight="bold" text-anchor="end">5</text>
<line x1="210.7" y1="1986.2" x2="225.8" y2="1986.2" stroke="#000" stroke-width="3.6"/>
<text x="205.6" y="1996.1" font-size="27.5" font-weight="bold" text-anchor="end">10</text>
<line x1="210.7" y1="1887.0" x2="225.8" y2="1887.0" stroke="#000" stroke-width="3.6"/>
<text x="205.6" y="1896.8" font-size="27.5" font-weight="bold" text-anchor="end">15</text>
<line x1="255.0" y1="2184.7" x2="255.0" y2="2201.2" stroke="#000" stroke-width="3.8"/>
<text x="255.0" y="2230.5" font-size="27" text-anchor="middle">17</text>
<line x1="312.4" y1="2184.7" x2="312.4" y2="2201.2" stroke="#000" stroke-width="3.8"/>
<text x="312.4" y="2230.5" font-size="27" text-anchor="middle">19</text>
<line x1="369.9" y1="2184.7" x2="369.9" y2="2201.2" stroke="#000" stroke-width="3.8"/>
<text x="369.9" y="2230.5" font-size="27" text-anchor="middle">21</text>
<line x1="427.3" y1="2184.7" x2="427.3" y2="2201.2" stroke="#000" stroke-width="3.8"/>
<text x="427.3" y="2230.5" font-size="27" text-anchor="middle">23</text>
<line x1="484.8" y1="2184.7" x2="484.8" y2="2201.2" stroke="#000" stroke-width="3.8"/>
<text x="484.8" y="2230.5" font-size="27" text-anchor="middle">25</text>
<line x1="542.2" y1="2184.7" x2="542.2" y2="2201.2" stroke="#000" stroke-width="3.8"/>
<text x="542.2" y="2230.5" font-size="27" text-anchor="middle">27</text>
<line x1="599.6" y1="2184.7" x2="599.6" y2="2201.2" stroke="#000" stroke-width="3.8"/>
<text x="599.6" y="2230.5" font-size="27" text-anchor="middle">29</text>
<line x1="657.1" y1="2184.7" x2="657.1" y2="2201.2" stroke="#000" stroke-width="3.8"/>
<text x="657.1" y="2230.5" font-size="27" text-anchor="middle">31</text>
<text x="448.1" y="1875.8" font-size="34" font-weight="bold" text-anchor="middle" textLength="97.0" lengthAdjust="spacingAndGlyphs">MCP1</text>
<text x="682.3" y="2082.9" font-size="47" font-weight="bold" letter-spacing="2.22" fill="#f81c10">**</text>
<text x="683.0" y="2113.0" font-size="32.5" font-weight="bold" fill="#5fa5fa">ns</text>
<rect x="883.7" y="2066.9" width="13.0" height="13.0" fill="#ef353d" fill-opacity="0.6"/>
<polygon points="890.2,2132.8 897.7,2146.3 882.7,2146.3" fill="#ef353d" fill-opacity="0.6"/>
<circle cx="890.2" cy="2095.7" r="6.8" fill="#5fa8f8" fill-opacity="0.6"/>
<rect x="883.7" y="2111.5" width="13.0" height="13.0" fill="#a3a3a5" fill-opacity="0.6"/>
<polygon points="890.2,2158.8 897.7,2172.3 882.7,2172.3" fill="#a3a3a5" fill-opacity="0.6"/>
<rect x="941.3" y="1936.8" width="13.0" height="13.0" fill="#ef353d" fill-opacity="0.6"/>
<circle cx="947.8" cy="2028.8" r="6.8" fill="#ef353d" fill-opacity="0.6"/>
<polygon points="947.8,2047.3 955.3,2060.8 940.3,2060.8" fill="#5fa8f8" fill-opacity="0.6"/>
<rect x="941.3" y="2085.5" width="13.0" height="13.0" fill="#5fa8f8" fill-opacity="0.6"/>
<circle cx="947.8" cy="2129.1" r="6.8" fill="#a3a3a5" fill-opacity="0.6"/>
<rect x="941.3" y="2130.1" width="13.0" height="13.0" fill="#a3a3a5" fill-opacity="0.6"/>
<rect x="998.9" y="1973.9" width="13.0" height="13.0" fill="#ef353d" fill-opacity="0.6"/>
<circle cx="1005.4" cy="2065.9" r="6.8" fill="#ef353d" fill-opacity="0.6"/>
<circle cx="1005.4" cy="2092.0" r="6.8" fill="#5fa8f8" fill-opacity="0.6"/>
<rect x="998.9" y="2096.6" width="13.0" height="13.0" fill="#a3a3a5" fill-opacity="0.6"/>
<polygon points="1005.4,2110.5 1012.9,2124.0 997.9,2124.0" fill="#a3a3a5" fill-opacity="0.6"/>
<rect x="1085.2" y="1947.9" width="13.0" height="13.0" fill="#ef353d" fill-opacity="0.6"/>
<circle cx="1091.7" cy="2021.3" r="6.8" fill="#ef353d" fill-opacity="0.6"/>
<rect x="1085.2" y="2033.4" width="13.0" height="13.0" fill="#5fa8f8" fill-opacity="0.6"/>
<circle cx="1091.7" cy="2054.8" r="6.8" fill="#5fa8f8" fill-opacity="0.6"/>
<circle cx="1091.7" cy="2092.0" r="6.8" fill="#a3a3a5" fill-opacity="0.6"/>
<polygon points="1091.7,2103.1 1099.2,2116.6 1084.2,2116.6" fill="#a3a3a5" fill-opacity="0.6"/>
<rect x="1286.8" y="1955.4" width="13.0" height="13.0" fill="#ef353d" fill-opacity="0.6"/>
<polygon points="1293.3,1946.9 1300.8,1960.4 1285.8,1960.4" fill="#ef353d" fill-opacity="0.6"/>
<circle cx="1293.3" cy="1987.9" r="6.8" fill="#5fa8f8" fill-opacity="0.6"/>
<circle cx="1293.3" cy="2013.9" r="6.8" fill="#5fa8f8" fill-opacity="0.6"/>
<polygon points="1293.3,1969.2 1300.8,1982.7 1285.8,1982.7" fill="#a3a3a5" fill-opacity="0.6"/>
<rect x="1286.8" y="1992.5" width="13.0" height="13.0" fill="#a3a3a5" fill-opacity="0.6"/>
<line x1="890.2" y1="2140.3" x2="890.2" y2="2073.4" stroke="#ef353d" stroke-width="4.2"/>
<line x1="879.7" y1="2073.4" x2="900.7" y2="2073.4" stroke="#ef353d" stroke-width="4.2"/>
<line x1="879.7" y1="2140.3" x2="900.7" y2="2140.3" stroke="#ef353d" stroke-width="4.2"/>
<line x1="890.2" y1="2110.6" x2="890.2" y2="2092.0" stroke="#5fa8f8" stroke-width="4.2"/>
<line x1="879.7" y1="2092.0" x2="900.7" y2="2092.0" stroke="#5fa8f8" stroke-width="4.2"/>
<line x1="879.7" y1="2110.6" x2="900.7" y2="2110.6" stroke="#5fa8f8" stroke-width="4.2"/>
<line x1="890.2" y1="2162.6" x2="890.2" y2="2092.0" stroke="#7b7b7d" stroke-width="4.2"/>
<line x1="879.7" y1="2092.0" x2="900.7" y2="2092.0" stroke="#7b7b7d" stroke-width="4.2"/>
<line x1="879.7" y1="2162.6" x2="900.7" y2="2162.6" stroke="#7b7b7d" stroke-width="4.2"/>
<line x1="947.8" y1="2065.9" x2="947.8" y2="1947.0" stroke="#ef353d" stroke-width="4.2"/>
<line x1="937.3" y1="1947.0" x2="958.3" y2="1947.0" stroke="#ef353d" stroke-width="4.2"/>
<line x1="937.3" y1="2065.9" x2="958.3" y2="2065.9" stroke="#ef353d" stroke-width="4.2"/>
<line x1="947.8" y1="2092.0" x2="947.8" y2="2051.1" stroke="#5fa8f8" stroke-width="4.2"/>
<line x1="937.3" y1="2051.1" x2="958.3" y2="2051.1" stroke="#5fa8f8" stroke-width="4.2"/>
<line x1="937.3" y1="2092.0" x2="958.3" y2="2092.0" stroke="#5fa8f8" stroke-width="4.2"/>
<line x1="947.8" y1="2136.6" x2="947.8" y2="2125.4" stroke="#7b7b7d" stroke-width="4.2"/>
<line x1="937.3" y1="2125.4" x2="958.3" y2="2125.4" stroke="#7b7b7d" stroke-width="4.2"/>
<line x1="937.3" y1="2136.6" x2="958.3" y2="2136.6" stroke="#7b7b7d" stroke-width="4.2"/>
<line x1="1005.4" y1="2065.9" x2="1005.4" y2="1980.4" stroke="#ef353d" stroke-width="4.2"/>
<line x1="994.9" y1="1980.4" x2="1015.9" y2="1980.4" stroke="#ef353d" stroke-width="4.2"/>
<line x1="994.9" y1="2065.9" x2="1015.9" y2="2065.9" stroke="#ef353d" stroke-width="4.2"/>
<line x1="1005.4" y1="2095.7" x2="1005.4" y2="2069.7" stroke="#5fa8f8" stroke-width="4.2"/>
<line x1="994.9" y1="2069.7" x2="1015.9" y2="2069.7" stroke="#5fa8f8" stroke-width="4.2"/>
<line x1="994.9" y1="2095.7" x2="1015.9" y2="2095.7" stroke="#5fa8f8" stroke-width="4.2"/>
<line x1="1005.4" y1="2114.3" x2="1005.4" y2="2088.2" stroke="#7b7b7d" stroke-width="4.2"/>
<line x1="994.9" y1="2088.2" x2="1015.9" y2="2088.2" stroke="#7b7b7d" stroke-width="4.2"/>
<line x1="994.9" y1="2114.3" x2="1015.9" y2="2114.3" stroke="#7b7b7d" stroke-width="4.2"/>
<line x1="1091.7" y1="2047.4" x2="1091.7" y2="1958.1" stroke="#ef353d" stroke-width="4.2"/>
<line x1="1081.2" y1="1958.1" x2="1102.2" y2="1958.1" stroke="#ef353d" stroke-width="4.2"/>
<line x1="1081.2" y1="2047.4" x2="1102.2" y2="2047.4" stroke="#ef353d" stroke-width="4.2"/>
<line x1="1091.7" y1="2088.2" x2="1091.7" y2="2039.9" stroke="#5fa8f8" stroke-width="4.2"/>
<line x1="1081.2" y1="2039.9" x2="1102.2" y2="2039.9" stroke="#5fa8f8" stroke-width="4.2"/>
<line x1="1081.2" y1="2088.2" x2="1102.2" y2="2088.2" stroke="#5fa8f8" stroke-width="4.2"/>
<line x1="1091.7" y1="2114.3" x2="1091.7" y2="2084.5" stroke="#7b7b7d" stroke-width="4.2"/>
<line x1="1081.2" y1="2084.5" x2="1102.2" y2="2084.5" stroke="#7b7b7d" stroke-width="4.2"/>
<line x1="1081.2" y1="2114.3" x2="1102.2" y2="2114.3" stroke="#7b7b7d" stroke-width="4.2"/>
<line x1="1293.3" y1="1973.0" x2="1293.3" y2="1943.3" stroke="#ef353d" stroke-width="4.2"/>
<line x1="1282.8" y1="1943.3" x2="1303.8" y2="1943.3" stroke="#ef353d" stroke-width="4.2"/>
<line x1="1282.8" y1="1973.0" x2="1303.8" y2="1973.0" stroke="#ef353d" stroke-width="4.2"/>
<line x1="1293.3" y1="2010.2" x2="1293.3" y2="1987.9" stroke="#5fa8f8" stroke-width="4.2"/>
<line x1="1282.8" y1="1987.9" x2="1303.8" y2="1987.9" stroke="#5fa8f8" stroke-width="4.2"/>
<line x1="1282.8" y1="2010.2" x2="1303.8" y2="2010.2" stroke="#5fa8f8" stroke-width="4.2"/>
<line x1="1293.3" y1="2006.5" x2="1293.3" y2="1980.4" stroke="#7b7b7d" stroke-width="4.2"/>
<line x1="1282.8" y1="1980.4" x2="1303.8" y2="1980.4" stroke="#7b7b7d" stroke-width="4.2"/>
<line x1="1282.8" y1="2006.5" x2="1303.8" y2="2006.5" stroke="#7b7b7d" stroke-width="4.2"/>
<line x1="871.5" y1="2110.6" x2="1299.0" y2="2110.6" stroke="#000" stroke-width="4.6" stroke-linecap="round" stroke-dasharray="0 11.5"/>
<polyline points="890.2,2127.3 947.8,2130.6 1005.4,2100.9 1091.7,2100.1 1293.3,1994.9" fill="none" stroke="#7b7b7d" stroke-width="5.2" stroke-linejoin="round" stroke-dasharray="13 8"/>
<polyline points="890.2,2099.4 947.8,2071.1 1005.4,2083.4 1091.7,2063.0 1293.3,2002.7" fill="none" stroke="#5fa8f8" stroke-width="5.2" stroke-linejoin="round"/>
<polyline points="890.2,2095.3 947.8,2007.9 1005.4,2018.7 1091.7,2002.7 1293.3,1964.5" fill="none" stroke="#ef353d" stroke-width="5.2" stroke-linejoin="round"/>
<line x1="861.5" y1="1885.8" x2="861.5" y2="2186.6" stroke="#000" stroke-width="3.8"/>
<line x1="859.7" y1="2184.9" x2="1309.0" y2="2184.9" stroke="#000" stroke-width="3.8"/>
<line x1="846.5" y1="2184.9" x2="861.5" y2="2184.9" stroke="#000" stroke-width="3.6"/>
<text x="841.2" y="2194.7" font-size="27.5" font-weight="bold" text-anchor="end">0.8</text>
<line x1="846.5" y1="2110.6" x2="861.5" y2="2110.6" stroke="#000" stroke-width="3.6"/>
<text x="841.2" y="2120.4" font-size="27.5" font-weight="bold" text-anchor="end">1.0</text>
<line x1="846.5" y1="2036.2" x2="861.5" y2="2036.2" stroke="#000" stroke-width="3.6"/>
<text x="841.2" y="2046.0" font-size="27.5" font-weight="bold" text-anchor="end">1.2</text>
<line x1="846.5" y1="1961.9" x2="861.5" y2="1961.9" stroke="#000" stroke-width="3.6"/>
<text x="841.2" y="1971.7" font-size="27.5" font-weight="bold" text-anchor="end">1.4</text>
<line x1="846.5" y1="1887.5" x2="861.5" y2="1887.5" stroke="#000" stroke-width="3.6"/>
<text x="841.2" y="1897.3" font-size="27.5" font-weight="bold" text-anchor="end">1.6</text>
<line x1="890.2" y1="2184.9" x2="890.2" y2="2201.4" stroke="#000" stroke-width="3.8"/>
<text x="890.2" y="2230.5" font-size="27" text-anchor="middle">17</text>
<line x1="947.8" y1="2184.9" x2="947.8" y2="2201.4" stroke="#000" stroke-width="3.8"/>
<text x="947.8" y="2230.5" font-size="27" text-anchor="middle">19</text>
<line x1="1005.4" y1="2184.9" x2="1005.4" y2="2201.4" stroke="#000" stroke-width="3.8"/>
<text x="1005.4" y="2230.5" font-size="27" text-anchor="middle">21</text>
<line x1="1062.9" y1="2184.9" x2="1062.9" y2="2201.4" stroke="#000" stroke-width="3.8"/>
<text x="1062.9" y="2230.5" font-size="27" text-anchor="middle">23</text>
<line x1="1120.5" y1="2184.9" x2="1120.5" y2="2201.4" stroke="#000" stroke-width="3.8"/>
<text x="1120.5" y="2230.5" font-size="27" text-anchor="middle">25</text>
<line x1="1178.1" y1="2184.9" x2="1178.1" y2="2201.4" stroke="#000" stroke-width="3.8"/>
<text x="1178.1" y="2230.5" font-size="27" text-anchor="middle">27</text>
<line x1="1235.7" y1="2184.9" x2="1235.7" y2="2201.4" stroke="#000" stroke-width="3.8"/>
<text x="1235.7" y="2230.5" font-size="27" text-anchor="middle">29</text>
<line x1="1293.3" y1="2184.9" x2="1293.3" y2="2201.4" stroke="#000" stroke-width="3.8"/>
<text x="1293.3" y="2230.5" font-size="27" text-anchor="middle">31</text>
<text x="1083.5" y="1875.2" font-size="34" font-weight="bold" text-anchor="middle" textLength="110.2" lengthAdjust="spacingAndGlyphs">G-CSF</text>
<text x="1318.7" y="1986.6" font-size="47" font-weight="bold" letter-spacing="2.22" fill="#f81c10">*</text>
<text x="1315.0" y="2009.2" font-size="32.5" font-weight="bold" fill="#5fa5fa">ns</text>
<rect x="1488.3" y="2154.7" width="13.0" height="13.0" fill="#ef353d" fill-opacity="0.6"/>
<circle cx="1494.8" cy="2168.6" r="6.8" fill="#5fa8f8" fill-opacity="0.6"/>
<rect x="1488.3" y="2168.1" width="13.0" height="13.0" fill="#a3a3a5" fill-opacity="0.6"/>
<circle cx="1494.8" cy="2177.6" r="6.8" fill="#ef353d" fill-opacity="0.6"/>
<rect x="1546.0" y="2041.6" width="13.0" height="13.0" fill="#ef353d" fill-opacity="0.6"/>
<circle cx="1552.5" cy="2131.4" r="6.8" fill="#ef353d" fill-opacity="0.6"/>
<polygon points="1552.5,2138.8 1560.0,2152.3 1545.0,2152.3" fill="#5fa8f8" fill-opacity="0.6"/>
<circle cx="1552.5" cy="2164.2" r="6.8" fill="#a3a3a5" fill-opacity="0.6"/>
<rect x="1546.0" y="2166.6" width="13.0" height="13.0" fill="#a3a3a5" fill-opacity="0.6"/>
<rect x="1603.7" y="2066.9" width="13.0" height="13.0" fill="#ef353d" fill-opacity="0.6"/>
<circle cx="1610.2" cy="2118.0" r="6.8" fill="#ef353d" fill-opacity="0.6"/>
<polygon points="1610.2,2123.9 1617.7,2137.4 1602.7,2137.4" fill="#5fa8f8" fill-opacity="0.6"/>
<circle cx="1610.2" cy="2155.2" r="6.8" fill="#a3a3a5" fill-opacity="0.6"/>
<rect x="1603.7" y="2157.7" width="13.0" height="13.0" fill="#a3a3a5" fill-opacity="0.6"/>
<rect x="1690.2" y="2055.0" width="13.0" height="13.0" fill="#ef353d" fill-opacity="0.6"/>
<circle cx="1696.7" cy="2085.3" r="6.8" fill="#ef353d" fill-opacity="0.6"/>
<polygon points="1696.7,2116.5 1704.2,2130.0 1689.2,2130.0" fill="#ef353d" fill-opacity="0.6"/>
<circle cx="1696.7" cy="2137.4" r="6.8" fill="#5fa8f8" fill-opacity="0.6"/>
<circle cx="1696.7" cy="2156.7" r="6.8" fill="#a3a3a5" fill-opacity="0.6"/>
<polygon points="1696.7,2162.6 1704.2,2176.1 1689.2,2176.1" fill="#a3a3a5" fill-opacity="0.6"/>
<rect x="1892.1" y="1910.7" width="13.0" height="13.0" fill="#ef353d" fill-opacity="0.6"/>
<polygon points="1898.6,1926.0 1906.1,1939.5 1891.1,1939.5" fill="#ef353d" fill-opacity="0.6"/>
<circle cx="1898.6" cy="1982.6" r="6.8" fill="#ef353d" fill-opacity="0.6"/>
<circle cx="1898.6" cy="2043.6" r="6.8" fill="#5fa8f8" fill-opacity="0.6"/>
<rect x="1892.1" y="2062.4" width="13.0" height="13.0" fill="#5fa8f8" fill-opacity="0.6"/>
<polygon points="1898.6,2025.7 1906.1,2039.2 1891.1,2039.2" fill="#a3a3a5" fill-opacity="0.6"/>
<polygon points="1898.6,2068.9 1906.1,2082.4 1891.1,2082.4" fill="#a3a3a5" fill-opacity="0.6"/>
<line x1="1494.8" y1="2170.1" x2="1494.8" y2="2158.2" stroke="#ef353d" stroke-width="4.2"/>
<line x1="1484.3" y1="2158.2" x2="1505.3" y2="2158.2" stroke="#ef353d" stroke-width="4.2"/>
<line x1="1484.3" y1="2170.1" x2="1505.3" y2="2170.1" stroke="#ef353d" stroke-width="4.2"/>
<line x1="1494.8" y1="2173.1" x2="1494.8" y2="2165.7" stroke="#5fa8f8" stroke-width="4.2"/>
<line x1="1484.3" y1="2165.7" x2="1505.3" y2="2165.7" stroke="#5fa8f8" stroke-width="4.2"/>
<line x1="1484.3" y1="2173.1" x2="1505.3" y2="2173.1" stroke="#5fa8f8" stroke-width="4.2"/>
<line x1="1494.8" y1="2177.6" x2="1494.8" y2="2170.1" stroke="#7b7b7d" stroke-width="4.2"/>
<line x1="1484.3" y1="2170.1" x2="1505.3" y2="2170.1" stroke="#7b7b7d" stroke-width="4.2"/>
<line x1="1484.3" y1="2177.6" x2="1505.3" y2="2177.6" stroke="#7b7b7d" stroke-width="4.2"/>
<line x1="1552.5" y1="2147.8" x2="1552.5" y2="2054.1" stroke="#ef353d" stroke-width="4.2"/>
<line x1="1542.0" y1="2054.1" x2="1563.0" y2="2054.1" stroke="#ef353d" stroke-width="4.2"/>
<line x1="1542.0" y1="2147.8" x2="1563.0" y2="2147.8" stroke="#ef353d" stroke-width="4.2"/>
<line x1="1552.5" y1="2167.1" x2="1552.5" y2="2146.3" stroke="#5fa8f8" stroke-width="4.2"/>
<line x1="1542.0" y1="2146.3" x2="1563.0" y2="2146.3" stroke="#5fa8f8" stroke-width="4.2"/>
<line x1="1542.0" y1="2167.1" x2="1563.0" y2="2167.1" stroke="#5fa8f8" stroke-width="4.2"/>
<line x1="1552.5" y1="2173.1" x2="1552.5" y2="2162.7" stroke="#7b7b7d" stroke-width="4.2"/>
<line x1="1542.0" y1="2162.7" x2="1563.0" y2="2162.7" stroke="#7b7b7d" stroke-width="4.2"/>
<line x1="1542.0" y1="2173.1" x2="1563.0" y2="2173.1" stroke="#7b7b7d" stroke-width="4.2"/>
<line x1="1610.2" y1="2140.4" x2="1610.2" y2="2079.4" stroke="#ef353d" stroke-width="4.2"/>
<line x1="1599.7" y1="2079.4" x2="1620.7" y2="2079.4" stroke="#ef353d" stroke-width="4.2"/>
<line x1="1599.7" y1="2140.4" x2="1620.7" y2="2140.4" stroke="#ef353d" stroke-width="4.2"/>
<line x1="1610.2" y1="2158.2" x2="1610.2" y2="2132.9" stroke="#5fa8f8" stroke-width="4.2"/>
<line x1="1599.7" y1="2132.9" x2="1620.7" y2="2132.9" stroke="#5fa8f8" stroke-width="4.2"/>
<line x1="1599.7" y1="2158.2" x2="1620.7" y2="2158.2" stroke="#5fa8f8" stroke-width="4.2"/>
<line x1="1610.2" y1="2168.6" x2="1610.2" y2="2155.2" stroke="#7b7b7d" stroke-width="4.2"/>
<line x1="1599.7" y1="2155.2" x2="1620.7" y2="2155.2" stroke="#7b7b7d" stroke-width="4.2"/>
<line x1="1599.7" y1="2168.6" x2="1620.7" y2="2168.6" stroke="#7b7b7d" stroke-width="4.2"/>
<line x1="1696.7" y1="2120.0" x2="1696.7" y2="2060.8" stroke="#ef353d" stroke-width="4.2"/>
<line x1="1686.2" y1="2060.8" x2="1707.2" y2="2060.8" stroke="#ef353d" stroke-width="4.2"/>
<line x1="1686.2" y1="2120.0" x2="1707.2" y2="2120.0" stroke="#ef353d" stroke-width="4.2"/>
<line x1="1696.7" y1="2155.2" x2="1696.7" y2="2135.9" stroke="#5fa8f8" stroke-width="4.2"/>
<line x1="1686.2" y1="2135.9" x2="1707.2" y2="2135.9" stroke="#5fa8f8" stroke-width="4.2"/>
<line x1="1686.2" y1="2155.2" x2="1707.2" y2="2155.2" stroke="#5fa8f8" stroke-width="4.2"/>
<line x1="1696.7" y1="2167.1" x2="1696.7" y2="2152.3" stroke="#7b7b7d" stroke-width="4.2"/>
<line x1="1686.2" y1="2152.3" x2="1707.2" y2="2152.3" stroke="#7b7b7d" stroke-width="4.2"/>
<line x1="1686.2" y1="2167.1" x2="1707.2" y2="2167.1" stroke="#7b7b7d" stroke-width="4.2"/>
<line x1="1898.6" y1="1979.7" x2="1898.6" y2="1913.4" stroke="#ef353d" stroke-width="4.2"/>
<line x1="1888.1" y1="1913.4" x2="1909.1" y2="1913.4" stroke="#ef353d" stroke-width="4.2"/>
<line x1="1888.1" y1="1979.7" x2="1909.1" y2="1979.7" stroke="#ef353d" stroke-width="4.2"/>
<line x1="1898.6" y1="2070.9" x2="1898.6" y2="2036.9" stroke="#5fa8f8" stroke-width="4.2"/>
<line x1="1888.1" y1="2036.9" x2="1909.1" y2="2036.9" stroke="#5fa8f8" stroke-width="4.2"/>
<line x1="1888.1" y1="2070.9" x2="1909.1" y2="2070.9" stroke="#5fa8f8" stroke-width="4.2"/>
<line x1="1898.6" y1="2077.0" x2="1898.6" y2="2030.2" stroke="#7b7b7d" stroke-width="4.2"/>
<line x1="1888.1" y1="2030.2" x2="1909.1" y2="2030.2" stroke="#7b7b7d" stroke-width="4.2"/>
<line x1="1888.1" y1="2077.0" x2="1909.1" y2="2077.0" stroke="#7b7b7d" stroke-width="4.2"/>
<line x1="1477.7" y1="2170.1" x2="1904.7" y2="2170.1" stroke="#000" stroke-width="4.6" stroke-linecap="round" stroke-dasharray="0 11.5"/>
<polyline points="1494.8,2172.5 1552.5,2167.4 1610.2,2161.6 1696.7,2157.3 1898.6,2053.3" fill="none" stroke="#7b7b7d" stroke-width="5.2" stroke-linejoin="round" stroke-dasharray="13 8"/>
<polyline points="1494.8,2169.1 1552.5,2157.3 1610.2,2146.2 1696.7,2146.2 1898.6,2054.7" fill="none" stroke="#5fa8f8" stroke-width="5.2" stroke-linejoin="round"/>
<polyline points="1494.8,2164.0 1552.5,2105.8 1610.2,2106.4 1696.7,2087.8 1898.6,1946.3" fill="none" stroke="#ef353d" stroke-width="5.2" stroke-linejoin="round"/>
<line x1="1467.7" y1="1885.7" x2="1467.7" y2="2186.7" stroke="#000" stroke-width="3.8"/>
<line x1="1465.9" y1="2185.0" x2="1914.7" y2="2185.0" stroke="#000" stroke-width="3.8"/>
<line x1="1450.8" y1="2185.0" x2="1467.7" y2="2185.0" stroke="#000" stroke-width="3.6"/>
<text x="1445.7" y="2194.8" font-size="27.5" font-weight="bold" text-anchor="end">0</text>
<line x1="1450.8" y1="2110.6" x2="1467.7" y2="2110.6" stroke="#000" stroke-width="3.6"/>
<text x="1445.7" y="2120.4" font-size="27.5" font-weight="bold" text-anchor="end">5</text>
<line x1="1450.8" y1="2036.2" x2="1467.7" y2="2036.2" stroke="#000" stroke-width="3.6"/>
<text x="1445.7" y="2046.0" font-size="27.5" font-weight="bold" text-anchor="end">10</text>
<line x1="1450.8" y1="1961.8" x2="1467.7" y2="1961.8" stroke="#000" stroke-width="3.6"/>
<text x="1445.7" y="1971.6" font-size="27.5" font-weight="bold" text-anchor="end">15</text>
<line x1="1450.8" y1="1887.4" x2="1467.7" y2="1887.4" stroke="#000" stroke-width="3.6"/>
<text x="1445.7" y="1897.2" font-size="27.5" font-weight="bold" text-anchor="end">20</text>
<line x1="1494.8" y1="2185.0" x2="1494.8" y2="2201.5" stroke="#000" stroke-width="3.8"/>
<text x="1494.8" y="2230.5" font-size="27" text-anchor="middle">17</text>
<line x1="1552.5" y1="2185.0" x2="1552.5" y2="2201.5" stroke="#000" stroke-width="3.8"/>
<text x="1552.5" y="2230.5" font-size="27" text-anchor="middle">19</text>
<line x1="1610.2" y1="2185.0" x2="1610.2" y2="2201.5" stroke="#000" stroke-width="3.8"/>
<text x="1610.2" y="2230.5" font-size="27" text-anchor="middle">21</text>
<line x1="1667.8" y1="2185.0" x2="1667.8" y2="2201.5" stroke="#000" stroke-width="3.8"/>
<text x="1667.8" y="2230.5" font-size="27" text-anchor="middle">23</text>
<line x1="1725.5" y1="2185.0" x2="1725.5" y2="2201.5" stroke="#000" stroke-width="3.8"/>
<text x="1725.5" y="2230.5" font-size="27" text-anchor="middle">25</text>
<line x1="1783.2" y1="2185.0" x2="1783.2" y2="2201.5" stroke="#000" stroke-width="3.8"/>
<text x="1783.2" y="2230.5" font-size="27" text-anchor="middle">27</text>
<line x1="1840.9" y1="2185.0" x2="1840.9" y2="2201.5" stroke="#000" stroke-width="3.8"/>
<text x="1840.9" y="2230.5" font-size="27" text-anchor="middle">29</text>
<line x1="1898.6" y1="2185.0" x2="1898.6" y2="2201.5" stroke="#000" stroke-width="3.8"/>
<text x="1898.6" y="2230.5" font-size="27" text-anchor="middle">31</text>
<text x="1688.7" y="1874.5" font-size="34" font-weight="bold" text-anchor="middle" textLength="49.1" lengthAdjust="spacingAndGlyphs">IL8</text>
<text x="1922.8" y="1967.8" font-size="47" font-weight="bold" letter-spacing="2.22" fill="#f81c10">*</text>
<text x="1924.5" y="2064.1" font-size="32.5" font-weight="bold" fill="#5fa5fa">ns</text>
</svg>
</body></html>
